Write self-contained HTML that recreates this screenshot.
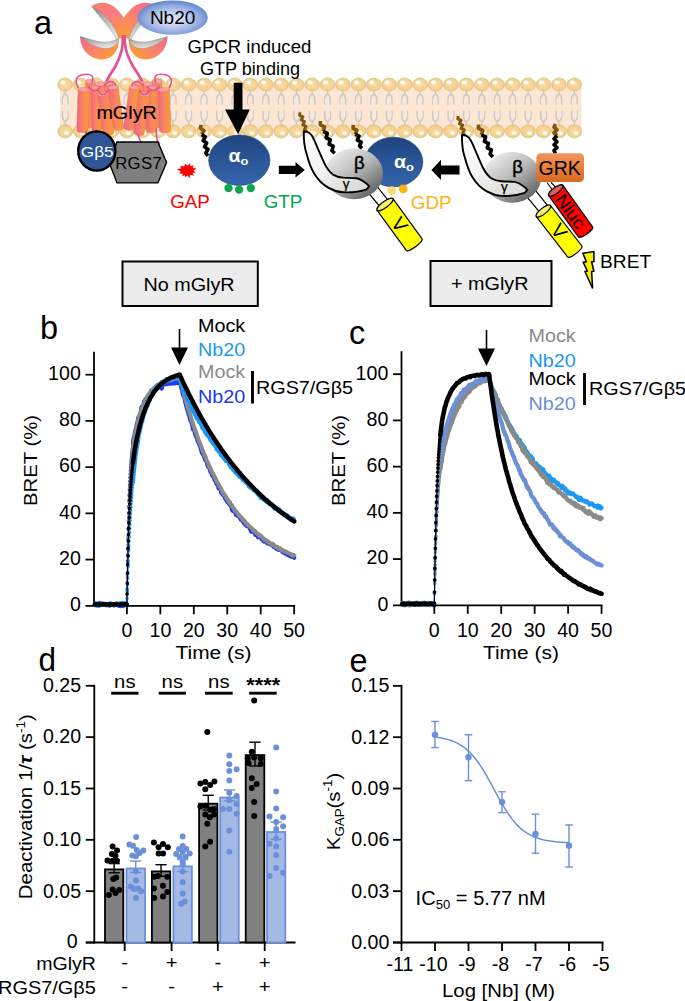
<!DOCTYPE html>
<html><head><meta charset="utf-8"><title>Figure</title>
<style>html,body{margin:0;padding:0;background:#fff}svg{display:block}text{font-family:'Liberation Sans', sans-serif}</style>
</head><body>
<svg width="685" height="1001" viewBox="0 0 685 1001">
<rect width="685" height="1001" fill="#fff"/>
<defs>
<linearGradient id="gHelix" x1="0" y1="0" x2="1" y2="0"><stop offset="0" stop-color="#f3628f"/><stop offset="0.55" stop-color="#f98a58"/><stop offset="1" stop-color="#fc9c35"/></linearGradient>
<linearGradient id="gHelixB" x1="0" y1="0" x2="1" y2="0"><stop offset="0" stop-color="#f77a86"/><stop offset="1" stop-color="#fb8f4c"/></linearGradient>
<linearGradient id="gUL" x1="0.2" y1="0" x2="0.8" y2="1"><stop offset="0" stop-color="#fb7f6c"/><stop offset="0.4" stop-color="#fa7a86"/><stop offset="1" stop-color="#fc9a3a"/></linearGradient>
<linearGradient id="gUR" x1="0.8" y1="0" x2="0.2" y2="1"><stop offset="0" stop-color="#f86c8e"/><stop offset="0.5" stop-color="#fb8270"/><stop offset="1" stop-color="#fc9a3a"/></linearGradient>
<linearGradient id="gLL" x1="0" y1="0" x2="1" y2="0.6"><stop offset="0" stop-color="#f5648f"/><stop offset="0.5" stop-color="#fa826c"/><stop offset="1" stop-color="#fd9c34"/></linearGradient>
<linearGradient id="gLR" x1="1" y1="0" x2="0" y2="0.6"><stop offset="0" stop-color="#f5688e"/><stop offset="0.5" stop-color="#fa826c"/><stop offset="1" stop-color="#fd9c34"/></linearGradient>
<linearGradient id="gGray" x1="0" y1="0" x2="0.3" y2="1"><stop offset="0" stop-color="#8a8a8a"/><stop offset="1" stop-color="#e4e4e4"/></linearGradient>
<radialGradient id="gNb" cx="0.5" cy="0.55" r="0.58"><stop offset="0" stop-color="#dde5f6"/><stop offset="0.35" stop-color="#c3d0ee"/><stop offset="0.7" stop-color="#8fa8df"/><stop offset="1" stop-color="#5178c9"/></radialGradient>
<radialGradient id="gHead" cx="0.5" cy="0.5" r="0.5"><stop offset="0" stop-color="#f9dda5"/><stop offset="0.8" stop-color="#f5d18c"/><stop offset="1" stop-color="#eac47c"/></radialGradient>
<linearGradient id="gAlpha" x1="0" y1="0" x2="0" y2="1"><stop offset="0" stop-color="#1f447f"/><stop offset="1" stop-color="#3566ad"/></linearGradient>
<linearGradient id="gBeta" x1="0.15" y1="0.1" x2="0.85" y2="0.9"><stop offset="0" stop-color="#ebebeb"/><stop offset="0.45" stop-color="#bcbcbc"/><stop offset="1" stop-color="#626262"/></linearGradient>
<linearGradient id="gGam" x1="0" y1="0" x2="0.6" y2="1"><stop offset="0" stop-color="#ffffff"/><stop offset="0.6" stop-color="#f2f2f0"/><stop offset="1" stop-color="#dcdcd8"/></linearGradient>
<linearGradient id="gGRK" x1="0" y1="0" x2="0" y2="1"><stop offset="0" stop-color="#f2955a"/><stop offset="1" stop-color="#d9691f"/></linearGradient>
</defs>
<text transform="translate(34.0 34.0) scale(1.0 1)" font-size="32.5" text-anchor="start" fill="#000" >a</text>
<rect x="60" y="83.5" width="521.5" height="48.80000000000001" fill="#fde6d3"/>
<g><g transform="translate(65.2 84.5)"><path d="M0 5.5V9.5M-2.8 20V14.5Q-2.8 10.8 0 9.5Q2.8 10.8 2.8 14.5V20" fill="none" stroke="#cdcbca" stroke-width="1.5"/><path d="M-1.9 19.5V14" stroke="#fff" stroke-width="0.7" fill="none" opacity="0.8"/><ellipse cx="0" cy="0" rx="7.4" ry="6.5" fill="url(#gHead)" stroke="#d9bd8c" stroke-width="0.6"/><ellipse cx="-2" cy="-2" rx="2.6" ry="1.9" fill="#fff" opacity="0.95"/></g><g transform="translate(80.6 84.5)"><path d="M0 5.5V9.5M-2.8 20V14.5Q-2.8 10.8 0 9.5Q2.8 10.8 2.8 14.5V20" fill="none" stroke="#cdcbca" stroke-width="1.5"/><path d="M-1.9 19.5V14" stroke="#fff" stroke-width="0.7" fill="none" opacity="0.8"/><ellipse cx="0" cy="0" rx="7.4" ry="6.5" fill="url(#gHead)" stroke="#d9bd8c" stroke-width="0.6"/><ellipse cx="-2" cy="-2" rx="2.6" ry="1.9" fill="#fff" opacity="0.95"/></g><g transform="translate(96.1 84.5)"><path d="M0 5.5V9.5M-2.8 20V14.5Q-2.8 10.8 0 9.5Q2.8 10.8 2.8 14.5V20" fill="none" stroke="#cdcbca" stroke-width="1.5"/><path d="M-1.9 19.5V14" stroke="#fff" stroke-width="0.7" fill="none" opacity="0.8"/><ellipse cx="0" cy="0" rx="7.4" ry="6.5" fill="url(#gHead)" stroke="#d9bd8c" stroke-width="0.6"/><ellipse cx="-2" cy="-2" rx="2.6" ry="1.9" fill="#fff" opacity="0.95"/></g><g transform="translate(111.5 84.5)"><path d="M0 5.5V9.5M-2.8 20V14.5Q-2.8 10.8 0 9.5Q2.8 10.8 2.8 14.5V20" fill="none" stroke="#cdcbca" stroke-width="1.5"/><path d="M-1.9 19.5V14" stroke="#fff" stroke-width="0.7" fill="none" opacity="0.8"/><ellipse cx="0" cy="0" rx="7.4" ry="6.5" fill="url(#gHead)" stroke="#d9bd8c" stroke-width="0.6"/><ellipse cx="-2" cy="-2" rx="2.6" ry="1.9" fill="#fff" opacity="0.95"/></g><g transform="translate(126.9 84.5)"><path d="M0 5.5V9.5M-2.8 20V14.5Q-2.8 10.8 0 9.5Q2.8 10.8 2.8 14.5V20" fill="none" stroke="#cdcbca" stroke-width="1.5"/><path d="M-1.9 19.5V14" stroke="#fff" stroke-width="0.7" fill="none" opacity="0.8"/><ellipse cx="0" cy="0" rx="7.4" ry="6.5" fill="url(#gHead)" stroke="#d9bd8c" stroke-width="0.6"/><ellipse cx="-2" cy="-2" rx="2.6" ry="1.9" fill="#fff" opacity="0.95"/></g><g transform="translate(142.4 84.5)"><path d="M0 5.5V9.5M-2.8 20V14.5Q-2.8 10.8 0 9.5Q2.8 10.8 2.8 14.5V20" fill="none" stroke="#cdcbca" stroke-width="1.5"/><path d="M-1.9 19.5V14" stroke="#fff" stroke-width="0.7" fill="none" opacity="0.8"/><ellipse cx="0" cy="0" rx="7.4" ry="6.5" fill="url(#gHead)" stroke="#d9bd8c" stroke-width="0.6"/><ellipse cx="-2" cy="-2" rx="2.6" ry="1.9" fill="#fff" opacity="0.95"/></g><g transform="translate(157.8 84.5)"><path d="M0 5.5V9.5M-2.8 20V14.5Q-2.8 10.8 0 9.5Q2.8 10.8 2.8 14.5V20" fill="none" stroke="#cdcbca" stroke-width="1.5"/><path d="M-1.9 19.5V14" stroke="#fff" stroke-width="0.7" fill="none" opacity="0.8"/><ellipse cx="0" cy="0" rx="7.4" ry="6.5" fill="url(#gHead)" stroke="#d9bd8c" stroke-width="0.6"/><ellipse cx="-2" cy="-2" rx="2.6" ry="1.9" fill="#fff" opacity="0.95"/></g><g transform="translate(173.2 84.5)"><path d="M0 5.5V9.5M-2.8 20V14.5Q-2.8 10.8 0 9.5Q2.8 10.8 2.8 14.5V20" fill="none" stroke="#cdcbca" stroke-width="1.5"/><path d="M-1.9 19.5V14" stroke="#fff" stroke-width="0.7" fill="none" opacity="0.8"/><ellipse cx="0" cy="0" rx="7.4" ry="6.5" fill="url(#gHead)" stroke="#d9bd8c" stroke-width="0.6"/><ellipse cx="-2" cy="-2" rx="2.6" ry="1.9" fill="#fff" opacity="0.95"/></g><g transform="translate(188.6 84.5)"><path d="M0 5.5V9.5M-2.8 20V14.5Q-2.8 10.8 0 9.5Q2.8 10.8 2.8 14.5V20" fill="none" stroke="#cdcbca" stroke-width="1.5"/><path d="M-1.9 19.5V14" stroke="#fff" stroke-width="0.7" fill="none" opacity="0.8"/><ellipse cx="0" cy="0" rx="7.4" ry="6.5" fill="url(#gHead)" stroke="#d9bd8c" stroke-width="0.6"/><ellipse cx="-2" cy="-2" rx="2.6" ry="1.9" fill="#fff" opacity="0.95"/></g><g transform="translate(204.1 84.5)"><path d="M0 5.5V9.5M-2.8 20V14.5Q-2.8 10.8 0 9.5Q2.8 10.8 2.8 14.5V20" fill="none" stroke="#cdcbca" stroke-width="1.5"/><path d="M-1.9 19.5V14" stroke="#fff" stroke-width="0.7" fill="none" opacity="0.8"/><ellipse cx="0" cy="0" rx="7.4" ry="6.5" fill="url(#gHead)" stroke="#d9bd8c" stroke-width="0.6"/><ellipse cx="-2" cy="-2" rx="2.6" ry="1.9" fill="#fff" opacity="0.95"/></g><g transform="translate(219.5 84.5)"><path d="M0 5.5V9.5M-2.8 20V14.5Q-2.8 10.8 0 9.5Q2.8 10.8 2.8 14.5V20" fill="none" stroke="#cdcbca" stroke-width="1.5"/><path d="M-1.9 19.5V14" stroke="#fff" stroke-width="0.7" fill="none" opacity="0.8"/><ellipse cx="0" cy="0" rx="7.4" ry="6.5" fill="url(#gHead)" stroke="#d9bd8c" stroke-width="0.6"/><ellipse cx="-2" cy="-2" rx="2.6" ry="1.9" fill="#fff" opacity="0.95"/></g><g transform="translate(234.9 84.5)"><path d="M0 5.5V9.5M-2.8 20V14.5Q-2.8 10.8 0 9.5Q2.8 10.8 2.8 14.5V20" fill="none" stroke="#cdcbca" stroke-width="1.5"/><path d="M-1.9 19.5V14" stroke="#fff" stroke-width="0.7" fill="none" opacity="0.8"/><ellipse cx="0" cy="0" rx="7.4" ry="6.5" fill="url(#gHead)" stroke="#d9bd8c" stroke-width="0.6"/><ellipse cx="-2" cy="-2" rx="2.6" ry="1.9" fill="#fff" opacity="0.95"/></g><g transform="translate(250.4 84.5)"><path d="M0 5.5V9.5M-2.8 20V14.5Q-2.8 10.8 0 9.5Q2.8 10.8 2.8 14.5V20" fill="none" stroke="#cdcbca" stroke-width="1.5"/><path d="M-1.9 19.5V14" stroke="#fff" stroke-width="0.7" fill="none" opacity="0.8"/><ellipse cx="0" cy="0" rx="7.4" ry="6.5" fill="url(#gHead)" stroke="#d9bd8c" stroke-width="0.6"/><ellipse cx="-2" cy="-2" rx="2.6" ry="1.9" fill="#fff" opacity="0.95"/></g><g transform="translate(265.8 84.5)"><path d="M0 5.5V9.5M-2.8 20V14.5Q-2.8 10.8 0 9.5Q2.8 10.8 2.8 14.5V20" fill="none" stroke="#cdcbca" stroke-width="1.5"/><path d="M-1.9 19.5V14" stroke="#fff" stroke-width="0.7" fill="none" opacity="0.8"/><ellipse cx="0" cy="0" rx="7.4" ry="6.5" fill="url(#gHead)" stroke="#d9bd8c" stroke-width="0.6"/><ellipse cx="-2" cy="-2" rx="2.6" ry="1.9" fill="#fff" opacity="0.95"/></g><g transform="translate(281.2 84.5)"><path d="M0 5.5V9.5M-2.8 20V14.5Q-2.8 10.8 0 9.5Q2.8 10.8 2.8 14.5V20" fill="none" stroke="#cdcbca" stroke-width="1.5"/><path d="M-1.9 19.5V14" stroke="#fff" stroke-width="0.7" fill="none" opacity="0.8"/><ellipse cx="0" cy="0" rx="7.4" ry="6.5" fill="url(#gHead)" stroke="#d9bd8c" stroke-width="0.6"/><ellipse cx="-2" cy="-2" rx="2.6" ry="1.9" fill="#fff" opacity="0.95"/></g><g transform="translate(296.6 84.5)"><path d="M0 5.5V9.5M-2.8 20V14.5Q-2.8 10.8 0 9.5Q2.8 10.8 2.8 14.5V20" fill="none" stroke="#cdcbca" stroke-width="1.5"/><path d="M-1.9 19.5V14" stroke="#fff" stroke-width="0.7" fill="none" opacity="0.8"/><ellipse cx="0" cy="0" rx="7.4" ry="6.5" fill="url(#gHead)" stroke="#d9bd8c" stroke-width="0.6"/><ellipse cx="-2" cy="-2" rx="2.6" ry="1.9" fill="#fff" opacity="0.95"/></g><g transform="translate(312.1 84.5)"><path d="M0 5.5V9.5M-2.8 20V14.5Q-2.8 10.8 0 9.5Q2.8 10.8 2.8 14.5V20" fill="none" stroke="#cdcbca" stroke-width="1.5"/><path d="M-1.9 19.5V14" stroke="#fff" stroke-width="0.7" fill="none" opacity="0.8"/><ellipse cx="0" cy="0" rx="7.4" ry="6.5" fill="url(#gHead)" stroke="#d9bd8c" stroke-width="0.6"/><ellipse cx="-2" cy="-2" rx="2.6" ry="1.9" fill="#fff" opacity="0.95"/></g><g transform="translate(327.5 84.5)"><path d="M0 5.5V9.5M-2.8 20V14.5Q-2.8 10.8 0 9.5Q2.8 10.8 2.8 14.5V20" fill="none" stroke="#cdcbca" stroke-width="1.5"/><path d="M-1.9 19.5V14" stroke="#fff" stroke-width="0.7" fill="none" opacity="0.8"/><ellipse cx="0" cy="0" rx="7.4" ry="6.5" fill="url(#gHead)" stroke="#d9bd8c" stroke-width="0.6"/><ellipse cx="-2" cy="-2" rx="2.6" ry="1.9" fill="#fff" opacity="0.95"/></g><g transform="translate(342.9 84.5)"><path d="M0 5.5V9.5M-2.8 20V14.5Q-2.8 10.8 0 9.5Q2.8 10.8 2.8 14.5V20" fill="none" stroke="#cdcbca" stroke-width="1.5"/><path d="M-1.9 19.5V14" stroke="#fff" stroke-width="0.7" fill="none" opacity="0.8"/><ellipse cx="0" cy="0" rx="7.4" ry="6.5" fill="url(#gHead)" stroke="#d9bd8c" stroke-width="0.6"/><ellipse cx="-2" cy="-2" rx="2.6" ry="1.9" fill="#fff" opacity="0.95"/></g><g transform="translate(358.4 84.5)"><path d="M0 5.5V9.5M-2.8 20V14.5Q-2.8 10.8 0 9.5Q2.8 10.8 2.8 14.5V20" fill="none" stroke="#cdcbca" stroke-width="1.5"/><path d="M-1.9 19.5V14" stroke="#fff" stroke-width="0.7" fill="none" opacity="0.8"/><ellipse cx="0" cy="0" rx="7.4" ry="6.5" fill="url(#gHead)" stroke="#d9bd8c" stroke-width="0.6"/><ellipse cx="-2" cy="-2" rx="2.6" ry="1.9" fill="#fff" opacity="0.95"/></g><g transform="translate(373.8 84.5)"><path d="M0 5.5V9.5M-2.8 20V14.5Q-2.8 10.8 0 9.5Q2.8 10.8 2.8 14.5V20" fill="none" stroke="#cdcbca" stroke-width="1.5"/><path d="M-1.9 19.5V14" stroke="#fff" stroke-width="0.7" fill="none" opacity="0.8"/><ellipse cx="0" cy="0" rx="7.4" ry="6.5" fill="url(#gHead)" stroke="#d9bd8c" stroke-width="0.6"/><ellipse cx="-2" cy="-2" rx="2.6" ry="1.9" fill="#fff" opacity="0.95"/></g><g transform="translate(389.2 84.5)"><path d="M0 5.5V9.5M-2.8 20V14.5Q-2.8 10.8 0 9.5Q2.8 10.8 2.8 14.5V20" fill="none" stroke="#cdcbca" stroke-width="1.5"/><path d="M-1.9 19.5V14" stroke="#fff" stroke-width="0.7" fill="none" opacity="0.8"/><ellipse cx="0" cy="0" rx="7.4" ry="6.5" fill="url(#gHead)" stroke="#d9bd8c" stroke-width="0.6"/><ellipse cx="-2" cy="-2" rx="2.6" ry="1.9" fill="#fff" opacity="0.95"/></g><g transform="translate(404.7 84.5)"><path d="M0 5.5V9.5M-2.8 20V14.5Q-2.8 10.8 0 9.5Q2.8 10.8 2.8 14.5V20" fill="none" stroke="#cdcbca" stroke-width="1.5"/><path d="M-1.9 19.5V14" stroke="#fff" stroke-width="0.7" fill="none" opacity="0.8"/><ellipse cx="0" cy="0" rx="7.4" ry="6.5" fill="url(#gHead)" stroke="#d9bd8c" stroke-width="0.6"/><ellipse cx="-2" cy="-2" rx="2.6" ry="1.9" fill="#fff" opacity="0.95"/></g><g transform="translate(420.1 84.5)"><path d="M0 5.5V9.5M-2.8 20V14.5Q-2.8 10.8 0 9.5Q2.8 10.8 2.8 14.5V20" fill="none" stroke="#cdcbca" stroke-width="1.5"/><path d="M-1.9 19.5V14" stroke="#fff" stroke-width="0.7" fill="none" opacity="0.8"/><ellipse cx="0" cy="0" rx="7.4" ry="6.5" fill="url(#gHead)" stroke="#d9bd8c" stroke-width="0.6"/><ellipse cx="-2" cy="-2" rx="2.6" ry="1.9" fill="#fff" opacity="0.95"/></g><g transform="translate(435.5 84.5)"><path d="M0 5.5V9.5M-2.8 20V14.5Q-2.8 10.8 0 9.5Q2.8 10.8 2.8 14.5V20" fill="none" stroke="#cdcbca" stroke-width="1.5"/><path d="M-1.9 19.5V14" stroke="#fff" stroke-width="0.7" fill="none" opacity="0.8"/><ellipse cx="0" cy="0" rx="7.4" ry="6.5" fill="url(#gHead)" stroke="#d9bd8c" stroke-width="0.6"/><ellipse cx="-2" cy="-2" rx="2.6" ry="1.9" fill="#fff" opacity="0.95"/></g><g transform="translate(450.9 84.5)"><path d="M0 5.5V9.5M-2.8 20V14.5Q-2.8 10.8 0 9.5Q2.8 10.8 2.8 14.5V20" fill="none" stroke="#cdcbca" stroke-width="1.5"/><path d="M-1.9 19.5V14" stroke="#fff" stroke-width="0.7" fill="none" opacity="0.8"/><ellipse cx="0" cy="0" rx="7.4" ry="6.5" fill="url(#gHead)" stroke="#d9bd8c" stroke-width="0.6"/><ellipse cx="-2" cy="-2" rx="2.6" ry="1.9" fill="#fff" opacity="0.95"/></g><g transform="translate(466.4 84.5)"><path d="M0 5.5V9.5M-2.8 20V14.5Q-2.8 10.8 0 9.5Q2.8 10.8 2.8 14.5V20" fill="none" stroke="#cdcbca" stroke-width="1.5"/><path d="M-1.9 19.5V14" stroke="#fff" stroke-width="0.7" fill="none" opacity="0.8"/><ellipse cx="0" cy="0" rx="7.4" ry="6.5" fill="url(#gHead)" stroke="#d9bd8c" stroke-width="0.6"/><ellipse cx="-2" cy="-2" rx="2.6" ry="1.9" fill="#fff" opacity="0.95"/></g><g transform="translate(481.8 84.5)"><path d="M0 5.5V9.5M-2.8 20V14.5Q-2.8 10.8 0 9.5Q2.8 10.8 2.8 14.5V20" fill="none" stroke="#cdcbca" stroke-width="1.5"/><path d="M-1.9 19.5V14" stroke="#fff" stroke-width="0.7" fill="none" opacity="0.8"/><ellipse cx="0" cy="0" rx="7.4" ry="6.5" fill="url(#gHead)" stroke="#d9bd8c" stroke-width="0.6"/><ellipse cx="-2" cy="-2" rx="2.6" ry="1.9" fill="#fff" opacity="0.95"/></g><g transform="translate(497.2 84.5)"><path d="M0 5.5V9.5M-2.8 20V14.5Q-2.8 10.8 0 9.5Q2.8 10.8 2.8 14.5V20" fill="none" stroke="#cdcbca" stroke-width="1.5"/><path d="M-1.9 19.5V14" stroke="#fff" stroke-width="0.7" fill="none" opacity="0.8"/><ellipse cx="0" cy="0" rx="7.4" ry="6.5" fill="url(#gHead)" stroke="#d9bd8c" stroke-width="0.6"/><ellipse cx="-2" cy="-2" rx="2.6" ry="1.9" fill="#fff" opacity="0.95"/></g><g transform="translate(512.7 84.5)"><path d="M0 5.5V9.5M-2.8 20V14.5Q-2.8 10.8 0 9.5Q2.8 10.8 2.8 14.5V20" fill="none" stroke="#cdcbca" stroke-width="1.5"/><path d="M-1.9 19.5V14" stroke="#fff" stroke-width="0.7" fill="none" opacity="0.8"/><ellipse cx="0" cy="0" rx="7.4" ry="6.5" fill="url(#gHead)" stroke="#d9bd8c" stroke-width="0.6"/><ellipse cx="-2" cy="-2" rx="2.6" ry="1.9" fill="#fff" opacity="0.95"/></g><g transform="translate(528.1 84.5)"><path d="M0 5.5V9.5M-2.8 20V14.5Q-2.8 10.8 0 9.5Q2.8 10.8 2.8 14.5V20" fill="none" stroke="#cdcbca" stroke-width="1.5"/><path d="M-1.9 19.5V14" stroke="#fff" stroke-width="0.7" fill="none" opacity="0.8"/><ellipse cx="0" cy="0" rx="7.4" ry="6.5" fill="url(#gHead)" stroke="#d9bd8c" stroke-width="0.6"/><ellipse cx="-2" cy="-2" rx="2.6" ry="1.9" fill="#fff" opacity="0.95"/></g><g transform="translate(543.5 84.5)"><path d="M0 5.5V9.5M-2.8 20V14.5Q-2.8 10.8 0 9.5Q2.8 10.8 2.8 14.5V20" fill="none" stroke="#cdcbca" stroke-width="1.5"/><path d="M-1.9 19.5V14" stroke="#fff" stroke-width="0.7" fill="none" opacity="0.8"/><ellipse cx="0" cy="0" rx="7.4" ry="6.5" fill="url(#gHead)" stroke="#d9bd8c" stroke-width="0.6"/><ellipse cx="-2" cy="-2" rx="2.6" ry="1.9" fill="#fff" opacity="0.95"/></g><g transform="translate(559.0 84.5)"><path d="M0 5.5V9.5M-2.8 20V14.5Q-2.8 10.8 0 9.5Q2.8 10.8 2.8 14.5V20" fill="none" stroke="#cdcbca" stroke-width="1.5"/><path d="M-1.9 19.5V14" stroke="#fff" stroke-width="0.7" fill="none" opacity="0.8"/><ellipse cx="0" cy="0" rx="7.4" ry="6.5" fill="url(#gHead)" stroke="#d9bd8c" stroke-width="0.6"/><ellipse cx="-2" cy="-2" rx="2.6" ry="1.9" fill="#fff" opacity="0.95"/></g><g transform="translate(574.4 84.5)"><path d="M0 5.5V9.5M-2.8 20V14.5Q-2.8 10.8 0 9.5Q2.8 10.8 2.8 14.5V20" fill="none" stroke="#cdcbca" stroke-width="1.5"/><path d="M-1.9 19.5V14" stroke="#fff" stroke-width="0.7" fill="none" opacity="0.8"/><ellipse cx="0" cy="0" rx="7.4" ry="6.5" fill="url(#gHead)" stroke="#d9bd8c" stroke-width="0.6"/><ellipse cx="-2" cy="-2" rx="2.6" ry="1.9" fill="#fff" opacity="0.95"/></g></g>
<g><g transform="translate(65.2 131.3)"><path d="M0 -5.5V-9.5M-2.8 -20.5V-14.5Q-2.8 -10.8 0 -9.5Q2.8 -10.8 2.8 -14.5V-20.5" fill="none" stroke="#cdcbca" stroke-width="1.5"/><path d="M1.9 -20V-14" stroke="#fff" stroke-width="0.7" fill="none" opacity="0.8"/><ellipse cx="0" cy="0" rx="7.4" ry="6.5" fill="url(#gHead)" stroke="#d9bd8c" stroke-width="0.6"/><ellipse cx="1.5" cy="1.8" rx="2.6" ry="1.9" fill="#fff" opacity="0.95"/></g><g transform="translate(80.6 131.3)"><path d="M0 -5.5V-9.5M-2.8 -20.5V-14.5Q-2.8 -10.8 0 -9.5Q2.8 -10.8 2.8 -14.5V-20.5" fill="none" stroke="#cdcbca" stroke-width="1.5"/><path d="M1.9 -20V-14" stroke="#fff" stroke-width="0.7" fill="none" opacity="0.8"/><ellipse cx="0" cy="0" rx="7.4" ry="6.5" fill="url(#gHead)" stroke="#d9bd8c" stroke-width="0.6"/><ellipse cx="1.5" cy="1.8" rx="2.6" ry="1.9" fill="#fff" opacity="0.95"/></g><g transform="translate(96.1 131.3)"><path d="M0 -5.5V-9.5M-2.8 -20.5V-14.5Q-2.8 -10.8 0 -9.5Q2.8 -10.8 2.8 -14.5V-20.5" fill="none" stroke="#cdcbca" stroke-width="1.5"/><path d="M1.9 -20V-14" stroke="#fff" stroke-width="0.7" fill="none" opacity="0.8"/><ellipse cx="0" cy="0" rx="7.4" ry="6.5" fill="url(#gHead)" stroke="#d9bd8c" stroke-width="0.6"/><ellipse cx="1.5" cy="1.8" rx="2.6" ry="1.9" fill="#fff" opacity="0.95"/></g><g transform="translate(111.5 131.3)"><path d="M0 -5.5V-9.5M-2.8 -20.5V-14.5Q-2.8 -10.8 0 -9.5Q2.8 -10.8 2.8 -14.5V-20.5" fill="none" stroke="#cdcbca" stroke-width="1.5"/><path d="M1.9 -20V-14" stroke="#fff" stroke-width="0.7" fill="none" opacity="0.8"/><ellipse cx="0" cy="0" rx="7.4" ry="6.5" fill="url(#gHead)" stroke="#d9bd8c" stroke-width="0.6"/><ellipse cx="1.5" cy="1.8" rx="2.6" ry="1.9" fill="#fff" opacity="0.95"/></g><g transform="translate(126.9 131.3)"><path d="M0 -5.5V-9.5M-2.8 -20.5V-14.5Q-2.8 -10.8 0 -9.5Q2.8 -10.8 2.8 -14.5V-20.5" fill="none" stroke="#cdcbca" stroke-width="1.5"/><path d="M1.9 -20V-14" stroke="#fff" stroke-width="0.7" fill="none" opacity="0.8"/><ellipse cx="0" cy="0" rx="7.4" ry="6.5" fill="url(#gHead)" stroke="#d9bd8c" stroke-width="0.6"/><ellipse cx="1.5" cy="1.8" rx="2.6" ry="1.9" fill="#fff" opacity="0.95"/></g><g transform="translate(142.4 131.3)"><path d="M0 -5.5V-9.5M-2.8 -20.5V-14.5Q-2.8 -10.8 0 -9.5Q2.8 -10.8 2.8 -14.5V-20.5" fill="none" stroke="#cdcbca" stroke-width="1.5"/><path d="M1.9 -20V-14" stroke="#fff" stroke-width="0.7" fill="none" opacity="0.8"/><ellipse cx="0" cy="0" rx="7.4" ry="6.5" fill="url(#gHead)" stroke="#d9bd8c" stroke-width="0.6"/><ellipse cx="1.5" cy="1.8" rx="2.6" ry="1.9" fill="#fff" opacity="0.95"/></g><g transform="translate(157.8 131.3)"><path d="M0 -5.5V-9.5M-2.8 -20.5V-14.5Q-2.8 -10.8 0 -9.5Q2.8 -10.8 2.8 -14.5V-20.5" fill="none" stroke="#cdcbca" stroke-width="1.5"/><path d="M1.9 -20V-14" stroke="#fff" stroke-width="0.7" fill="none" opacity="0.8"/><ellipse cx="0" cy="0" rx="7.4" ry="6.5" fill="url(#gHead)" stroke="#d9bd8c" stroke-width="0.6"/><ellipse cx="1.5" cy="1.8" rx="2.6" ry="1.9" fill="#fff" opacity="0.95"/></g><g transform="translate(173.2 131.3)"><path d="M0 -5.5V-9.5M-2.8 -20.5V-14.5Q-2.8 -10.8 0 -9.5Q2.8 -10.8 2.8 -14.5V-20.5" fill="none" stroke="#cdcbca" stroke-width="1.5"/><path d="M1.9 -20V-14" stroke="#fff" stroke-width="0.7" fill="none" opacity="0.8"/><ellipse cx="0" cy="0" rx="7.4" ry="6.5" fill="url(#gHead)" stroke="#d9bd8c" stroke-width="0.6"/><ellipse cx="1.5" cy="1.8" rx="2.6" ry="1.9" fill="#fff" opacity="0.95"/></g><g transform="translate(188.6 131.3)"><path d="M0 -5.5V-9.5M-2.8 -20.5V-14.5Q-2.8 -10.8 0 -9.5Q2.8 -10.8 2.8 -14.5V-20.5" fill="none" stroke="#cdcbca" stroke-width="1.5"/><path d="M1.9 -20V-14" stroke="#fff" stroke-width="0.7" fill="none" opacity="0.8"/><ellipse cx="0" cy="0" rx="7.4" ry="6.5" fill="url(#gHead)" stroke="#d9bd8c" stroke-width="0.6"/><ellipse cx="1.5" cy="1.8" rx="2.6" ry="1.9" fill="#fff" opacity="0.95"/></g><g transform="translate(204.1 131.3)"><path d="M0 -5.5V-9.5M-2.8 -20.5V-14.5Q-2.8 -10.8 0 -9.5Q2.8 -10.8 2.8 -14.5V-20.5" fill="none" stroke="#cdcbca" stroke-width="1.5"/><path d="M1.9 -20V-14" stroke="#fff" stroke-width="0.7" fill="none" opacity="0.8"/><ellipse cx="0" cy="0" rx="7.4" ry="6.5" fill="url(#gHead)" stroke="#d9bd8c" stroke-width="0.6"/><ellipse cx="1.5" cy="1.8" rx="2.6" ry="1.9" fill="#fff" opacity="0.95"/></g><g transform="translate(219.5 131.3)"><path d="M0 -5.5V-9.5M-2.8 -20.5V-14.5Q-2.8 -10.8 0 -9.5Q2.8 -10.8 2.8 -14.5V-20.5" fill="none" stroke="#cdcbca" stroke-width="1.5"/><path d="M1.9 -20V-14" stroke="#fff" stroke-width="0.7" fill="none" opacity="0.8"/><ellipse cx="0" cy="0" rx="7.4" ry="6.5" fill="url(#gHead)" stroke="#d9bd8c" stroke-width="0.6"/><ellipse cx="1.5" cy="1.8" rx="2.6" ry="1.9" fill="#fff" opacity="0.95"/></g><g transform="translate(234.9 131.3)"><path d="M0 -5.5V-9.5M-2.8 -20.5V-14.5Q-2.8 -10.8 0 -9.5Q2.8 -10.8 2.8 -14.5V-20.5" fill="none" stroke="#cdcbca" stroke-width="1.5"/><path d="M1.9 -20V-14" stroke="#fff" stroke-width="0.7" fill="none" opacity="0.8"/><ellipse cx="0" cy="0" rx="7.4" ry="6.5" fill="url(#gHead)" stroke="#d9bd8c" stroke-width="0.6"/><ellipse cx="1.5" cy="1.8" rx="2.6" ry="1.9" fill="#fff" opacity="0.95"/></g><g transform="translate(250.4 131.3)"><path d="M0 -5.5V-9.5M-2.8 -20.5V-14.5Q-2.8 -10.8 0 -9.5Q2.8 -10.8 2.8 -14.5V-20.5" fill="none" stroke="#cdcbca" stroke-width="1.5"/><path d="M1.9 -20V-14" stroke="#fff" stroke-width="0.7" fill="none" opacity="0.8"/><ellipse cx="0" cy="0" rx="7.4" ry="6.5" fill="url(#gHead)" stroke="#d9bd8c" stroke-width="0.6"/><ellipse cx="1.5" cy="1.8" rx="2.6" ry="1.9" fill="#fff" opacity="0.95"/></g><g transform="translate(265.8 131.3)"><path d="M0 -5.5V-9.5M-2.8 -20.5V-14.5Q-2.8 -10.8 0 -9.5Q2.8 -10.8 2.8 -14.5V-20.5" fill="none" stroke="#cdcbca" stroke-width="1.5"/><path d="M1.9 -20V-14" stroke="#fff" stroke-width="0.7" fill="none" opacity="0.8"/><ellipse cx="0" cy="0" rx="7.4" ry="6.5" fill="url(#gHead)" stroke="#d9bd8c" stroke-width="0.6"/><ellipse cx="1.5" cy="1.8" rx="2.6" ry="1.9" fill="#fff" opacity="0.95"/></g><g transform="translate(281.2 131.3)"><path d="M0 -5.5V-9.5M-2.8 -20.5V-14.5Q-2.8 -10.8 0 -9.5Q2.8 -10.8 2.8 -14.5V-20.5" fill="none" stroke="#cdcbca" stroke-width="1.5"/><path d="M1.9 -20V-14" stroke="#fff" stroke-width="0.7" fill="none" opacity="0.8"/><ellipse cx="0" cy="0" rx="7.4" ry="6.5" fill="url(#gHead)" stroke="#d9bd8c" stroke-width="0.6"/><ellipse cx="1.5" cy="1.8" rx="2.6" ry="1.9" fill="#fff" opacity="0.95"/></g><g transform="translate(296.6 131.3)"><path d="M0 -5.5V-9.5M-2.8 -20.5V-14.5Q-2.8 -10.8 0 -9.5Q2.8 -10.8 2.8 -14.5V-20.5" fill="none" stroke="#cdcbca" stroke-width="1.5"/><path d="M1.9 -20V-14" stroke="#fff" stroke-width="0.7" fill="none" opacity="0.8"/><ellipse cx="0" cy="0" rx="7.4" ry="6.5" fill="url(#gHead)" stroke="#d9bd8c" stroke-width="0.6"/><ellipse cx="1.5" cy="1.8" rx="2.6" ry="1.9" fill="#fff" opacity="0.95"/></g><g transform="translate(312.1 131.3)"><path d="M0 -5.5V-9.5M-2.8 -20.5V-14.5Q-2.8 -10.8 0 -9.5Q2.8 -10.8 2.8 -14.5V-20.5" fill="none" stroke="#cdcbca" stroke-width="1.5"/><path d="M1.9 -20V-14" stroke="#fff" stroke-width="0.7" fill="none" opacity="0.8"/><ellipse cx="0" cy="0" rx="7.4" ry="6.5" fill="url(#gHead)" stroke="#d9bd8c" stroke-width="0.6"/><ellipse cx="1.5" cy="1.8" rx="2.6" ry="1.9" fill="#fff" opacity="0.95"/></g><g transform="translate(327.5 131.3)"><path d="M0 -5.5V-9.5M-2.8 -20.5V-14.5Q-2.8 -10.8 0 -9.5Q2.8 -10.8 2.8 -14.5V-20.5" fill="none" stroke="#cdcbca" stroke-width="1.5"/><path d="M1.9 -20V-14" stroke="#fff" stroke-width="0.7" fill="none" opacity="0.8"/><ellipse cx="0" cy="0" rx="7.4" ry="6.5" fill="url(#gHead)" stroke="#d9bd8c" stroke-width="0.6"/><ellipse cx="1.5" cy="1.8" rx="2.6" ry="1.9" fill="#fff" opacity="0.95"/></g><g transform="translate(342.9 131.3)"><path d="M0 -5.5V-9.5M-2.8 -20.5V-14.5Q-2.8 -10.8 0 -9.5Q2.8 -10.8 2.8 -14.5V-20.5" fill="none" stroke="#cdcbca" stroke-width="1.5"/><path d="M1.9 -20V-14" stroke="#fff" stroke-width="0.7" fill="none" opacity="0.8"/><ellipse cx="0" cy="0" rx="7.4" ry="6.5" fill="url(#gHead)" stroke="#d9bd8c" stroke-width="0.6"/><ellipse cx="1.5" cy="1.8" rx="2.6" ry="1.9" fill="#fff" opacity="0.95"/></g><g transform="translate(358.4 131.3)"><path d="M0 -5.5V-9.5M-2.8 -20.5V-14.5Q-2.8 -10.8 0 -9.5Q2.8 -10.8 2.8 -14.5V-20.5" fill="none" stroke="#cdcbca" stroke-width="1.5"/><path d="M1.9 -20V-14" stroke="#fff" stroke-width="0.7" fill="none" opacity="0.8"/><ellipse cx="0" cy="0" rx="7.4" ry="6.5" fill="url(#gHead)" stroke="#d9bd8c" stroke-width="0.6"/><ellipse cx="1.5" cy="1.8" rx="2.6" ry="1.9" fill="#fff" opacity="0.95"/></g><g transform="translate(373.8 131.3)"><path d="M0 -5.5V-9.5M-2.8 -20.5V-14.5Q-2.8 -10.8 0 -9.5Q2.8 -10.8 2.8 -14.5V-20.5" fill="none" stroke="#cdcbca" stroke-width="1.5"/><path d="M1.9 -20V-14" stroke="#fff" stroke-width="0.7" fill="none" opacity="0.8"/><ellipse cx="0" cy="0" rx="7.4" ry="6.5" fill="url(#gHead)" stroke="#d9bd8c" stroke-width="0.6"/><ellipse cx="1.5" cy="1.8" rx="2.6" ry="1.9" fill="#fff" opacity="0.95"/></g><g transform="translate(389.2 131.3)"><path d="M0 -5.5V-9.5M-2.8 -20.5V-14.5Q-2.8 -10.8 0 -9.5Q2.8 -10.8 2.8 -14.5V-20.5" fill="none" stroke="#cdcbca" stroke-width="1.5"/><path d="M1.9 -20V-14" stroke="#fff" stroke-width="0.7" fill="none" opacity="0.8"/><ellipse cx="0" cy="0" rx="7.4" ry="6.5" fill="url(#gHead)" stroke="#d9bd8c" stroke-width="0.6"/><ellipse cx="1.5" cy="1.8" rx="2.6" ry="1.9" fill="#fff" opacity="0.95"/></g><g transform="translate(404.7 131.3)"><path d="M0 -5.5V-9.5M-2.8 -20.5V-14.5Q-2.8 -10.8 0 -9.5Q2.8 -10.8 2.8 -14.5V-20.5" fill="none" stroke="#cdcbca" stroke-width="1.5"/><path d="M1.9 -20V-14" stroke="#fff" stroke-width="0.7" fill="none" opacity="0.8"/><ellipse cx="0" cy="0" rx="7.4" ry="6.5" fill="url(#gHead)" stroke="#d9bd8c" stroke-width="0.6"/><ellipse cx="1.5" cy="1.8" rx="2.6" ry="1.9" fill="#fff" opacity="0.95"/></g><g transform="translate(420.1 131.3)"><path d="M0 -5.5V-9.5M-2.8 -20.5V-14.5Q-2.8 -10.8 0 -9.5Q2.8 -10.8 2.8 -14.5V-20.5" fill="none" stroke="#cdcbca" stroke-width="1.5"/><path d="M1.9 -20V-14" stroke="#fff" stroke-width="0.7" fill="none" opacity="0.8"/><ellipse cx="0" cy="0" rx="7.4" ry="6.5" fill="url(#gHead)" stroke="#d9bd8c" stroke-width="0.6"/><ellipse cx="1.5" cy="1.8" rx="2.6" ry="1.9" fill="#fff" opacity="0.95"/></g><g transform="translate(435.5 131.3)"><path d="M0 -5.5V-9.5M-2.8 -20.5V-14.5Q-2.8 -10.8 0 -9.5Q2.8 -10.8 2.8 -14.5V-20.5" fill="none" stroke="#cdcbca" stroke-width="1.5"/><path d="M1.9 -20V-14" stroke="#fff" stroke-width="0.7" fill="none" opacity="0.8"/><ellipse cx="0" cy="0" rx="7.4" ry="6.5" fill="url(#gHead)" stroke="#d9bd8c" stroke-width="0.6"/><ellipse cx="1.5" cy="1.8" rx="2.6" ry="1.9" fill="#fff" opacity="0.95"/></g><g transform="translate(450.9 131.3)"><path d="M0 -5.5V-9.5M-2.8 -20.5V-14.5Q-2.8 -10.8 0 -9.5Q2.8 -10.8 2.8 -14.5V-20.5" fill="none" stroke="#cdcbca" stroke-width="1.5"/><path d="M1.9 -20V-14" stroke="#fff" stroke-width="0.7" fill="none" opacity="0.8"/><ellipse cx="0" cy="0" rx="7.4" ry="6.5" fill="url(#gHead)" stroke="#d9bd8c" stroke-width="0.6"/><ellipse cx="1.5" cy="1.8" rx="2.6" ry="1.9" fill="#fff" opacity="0.95"/></g><g transform="translate(466.4 131.3)"><path d="M0 -5.5V-9.5M-2.8 -20.5V-14.5Q-2.8 -10.8 0 -9.5Q2.8 -10.8 2.8 -14.5V-20.5" fill="none" stroke="#cdcbca" stroke-width="1.5"/><path d="M1.9 -20V-14" stroke="#fff" stroke-width="0.7" fill="none" opacity="0.8"/><ellipse cx="0" cy="0" rx="7.4" ry="6.5" fill="url(#gHead)" stroke="#d9bd8c" stroke-width="0.6"/><ellipse cx="1.5" cy="1.8" rx="2.6" ry="1.9" fill="#fff" opacity="0.95"/></g><g transform="translate(481.8 131.3)"><path d="M0 -5.5V-9.5M-2.8 -20.5V-14.5Q-2.8 -10.8 0 -9.5Q2.8 -10.8 2.8 -14.5V-20.5" fill="none" stroke="#cdcbca" stroke-width="1.5"/><path d="M1.9 -20V-14" stroke="#fff" stroke-width="0.7" fill="none" opacity="0.8"/><ellipse cx="0" cy="0" rx="7.4" ry="6.5" fill="url(#gHead)" stroke="#d9bd8c" stroke-width="0.6"/><ellipse cx="1.5" cy="1.8" rx="2.6" ry="1.9" fill="#fff" opacity="0.95"/></g><g transform="translate(497.2 131.3)"><path d="M0 -5.5V-9.5M-2.8 -20.5V-14.5Q-2.8 -10.8 0 -9.5Q2.8 -10.8 2.8 -14.5V-20.5" fill="none" stroke="#cdcbca" stroke-width="1.5"/><path d="M1.9 -20V-14" stroke="#fff" stroke-width="0.7" fill="none" opacity="0.8"/><ellipse cx="0" cy="0" rx="7.4" ry="6.5" fill="url(#gHead)" stroke="#d9bd8c" stroke-width="0.6"/><ellipse cx="1.5" cy="1.8" rx="2.6" ry="1.9" fill="#fff" opacity="0.95"/></g><g transform="translate(512.7 131.3)"><path d="M0 -5.5V-9.5M-2.8 -20.5V-14.5Q-2.8 -10.8 0 -9.5Q2.8 -10.8 2.8 -14.5V-20.5" fill="none" stroke="#cdcbca" stroke-width="1.5"/><path d="M1.9 -20V-14" stroke="#fff" stroke-width="0.7" fill="none" opacity="0.8"/><ellipse cx="0" cy="0" rx="7.4" ry="6.5" fill="url(#gHead)" stroke="#d9bd8c" stroke-width="0.6"/><ellipse cx="1.5" cy="1.8" rx="2.6" ry="1.9" fill="#fff" opacity="0.95"/></g><g transform="translate(528.1 131.3)"><path d="M0 -5.5V-9.5M-2.8 -20.5V-14.5Q-2.8 -10.8 0 -9.5Q2.8 -10.8 2.8 -14.5V-20.5" fill="none" stroke="#cdcbca" stroke-width="1.5"/><path d="M1.9 -20V-14" stroke="#fff" stroke-width="0.7" fill="none" opacity="0.8"/><ellipse cx="0" cy="0" rx="7.4" ry="6.5" fill="url(#gHead)" stroke="#d9bd8c" stroke-width="0.6"/><ellipse cx="1.5" cy="1.8" rx="2.6" ry="1.9" fill="#fff" opacity="0.95"/></g><g transform="translate(543.5 131.3)"><path d="M0 -5.5V-9.5M-2.8 -20.5V-14.5Q-2.8 -10.8 0 -9.5Q2.8 -10.8 2.8 -14.5V-20.5" fill="none" stroke="#cdcbca" stroke-width="1.5"/><path d="M1.9 -20V-14" stroke="#fff" stroke-width="0.7" fill="none" opacity="0.8"/><ellipse cx="0" cy="0" rx="7.4" ry="6.5" fill="url(#gHead)" stroke="#d9bd8c" stroke-width="0.6"/><ellipse cx="1.5" cy="1.8" rx="2.6" ry="1.9" fill="#fff" opacity="0.95"/></g><g transform="translate(559.0 131.3)"><path d="M0 -5.5V-9.5M-2.8 -20.5V-14.5Q-2.8 -10.8 0 -9.5Q2.8 -10.8 2.8 -14.5V-20.5" fill="none" stroke="#cdcbca" stroke-width="1.5"/><path d="M1.9 -20V-14" stroke="#fff" stroke-width="0.7" fill="none" opacity="0.8"/><ellipse cx="0" cy="0" rx="7.4" ry="6.5" fill="url(#gHead)" stroke="#d9bd8c" stroke-width="0.6"/><ellipse cx="1.5" cy="1.8" rx="2.6" ry="1.9" fill="#fff" opacity="0.95"/></g><g transform="translate(574.4 131.3)"><path d="M0 -5.5V-9.5M-2.8 -20.5V-14.5Q-2.8 -10.8 0 -9.5Q2.8 -10.8 2.8 -14.5V-20.5" fill="none" stroke="#cdcbca" stroke-width="1.5"/><path d="M1.9 -20V-14" stroke="#fff" stroke-width="0.7" fill="none" opacity="0.8"/><ellipse cx="0" cy="0" rx="7.4" ry="6.5" fill="url(#gHead)" stroke="#d9bd8c" stroke-width="0.6"/><ellipse cx="1.5" cy="1.8" rx="2.6" ry="1.9" fill="#fff" opacity="0.95"/></g></g>
<path d="M91.7 6.4 C97.0 1.0 109.0 1.5 115.0 7.5 C119.5 11.5 122.0 15.0 124.2 18.5 L124.2 37.0 L118.2 39.0 C116.0 27.0 106.0 17.0 91.7 6.4 Z" fill="url(#gUL)"/>
<path d="M80.0 36.6 C80.5 49.0 89.0 59.4 102.0 59.4 C112.0 59.4 119.2 51.0 118.9 39.5 L117.0 40.0 C108.0 47.0 92.0 44.0 80.0 36.6 Z" fill="url(#gLL)"/>
<path d="M91.7 6.4 C102.0 11.0 115.0 24.0 118.6 38.5 L117.2 40.4 C112.0 30.0 102.0 20.0 91.7 6.4 Z" fill="url(#gGray)" stroke="#7a7a7a" stroke-width="0.3"/>
<path d="M80.0 36.6 C90.0 38.5 104.0 46.5 118.3 38.6 L118.9 40.6 C112.5 53.5 95.0 49.5 80.0 36.6 Z" fill="url(#gGray)" stroke="#7a7a7a" stroke-width="0.3"/>
<path d="M155.9 6.4 C150.6 1.0 138.6 1.5 132.6 7.5 C128.1 11.5 125.6 15.0 123.4 18.5 L123.4 37.0 L129.4 39.0 C131.6 27.0 141.6 17.0 155.9 6.4 Z" fill="url(#gUR)"/>
<path d="M167.6 36.6 C167.1 49.0 158.6 59.4 145.6 59.4 C135.6 59.4 128.4 51.0 128.7 39.5 L130.6 40.0 C139.6 47.0 155.6 44.0 167.6 36.6 Z" fill="url(#gLR)"/>
<path d="M155.9 6.4 C145.6 11.0 132.6 24.0 129.0 38.5 L130.4 40.4 C135.6 30.0 145.6 20.0 155.9 6.4 Z" fill="url(#gGray)" stroke="#7a7a7a" stroke-width="0.3"/>
<path d="M167.6 36.6 C157.6 38.5 143.6 46.5 129.3 38.6 L128.7 40.6 C135.1 53.5 152.6 49.5 167.6 36.6 Z" fill="url(#gGray)" stroke="#7a7a7a" stroke-width="0.3"/>
<path d="M122.89999999999999 35 L122.6 44 C122.2 52 119.8 58 115.0 67 C111.8 72.5 107.8 77 105.8 83" fill="none" stroke="#e6508c" stroke-width="2.7"/>
<path d="M124.7 35 L125.0 44 C125.6 52 128.2 58 133.4 67 C136.8 72.5 140.3 76.5 142.3 82" fill="none" stroke="#e6508c" stroke-width="2.7"/>
<path d="M85.8 81.4 L95.2 81.6 L94.2 126.1 A4.8 2.2 1.3 0 1 84.8 125.9 Z" fill="url(#gHelixB)" stroke="#d8703a" stroke-width="0.4"/>
<ellipse cx="90.5" cy="81.5" rx="4.8" ry="2.2" transform="rotate(1.3 90.5 81.5)" fill="#f8a5ae" stroke="#d8703a" stroke-width="0.4"/>
<path d="M95.5 84.1 L104.5 83.9 L105.5 126.9 A4.5 2.2 -1.3 0 1 96.5 127.1 Z" fill="url(#gHelixB)" stroke="#d8703a" stroke-width="0.4"/>
<ellipse cx="100.0" cy="84.0" rx="4.5" ry="2.2" transform="rotate(-1.3 100.0 84.0)" fill="#f8a5ae" stroke="#d8703a" stroke-width="0.4"/>
<path d="M104.0 83.4 L113.0 82.6 L116.5 125.6 A4.5 2.2 -4.7 0 1 107.5 126.4 Z" fill="url(#gHelixB)" stroke="#d8703a" stroke-width="0.4"/>
<ellipse cx="108.5" cy="83.0" rx="4.5" ry="2.2" transform="rotate(-4.7 108.5 83.0)" fill="#f8a5ae" stroke="#d8703a" stroke-width="0.4"/>
<path d="M108.3 88.2 L118.1 86.8 L123.9 127.3 A4.9 2.2 -8.1 0 1 114.1 128.7 Z" fill="url(#gHelix)" stroke="#d8703a" stroke-width="0.4"/>
<ellipse cx="113.2" cy="87.5" rx="4.9" ry="2.2" transform="rotate(-8.1 113.2 87.5)" fill="#f9a0a8" stroke="#d8703a" stroke-width="0.4"/>
<path d="M78.2 89.6 L89.6 90.0 L88.2 130.7 A5.7 2.2 2.0 0 1 76.8 130.3 Z" fill="url(#gHelix)" stroke="#d8703a" stroke-width="0.4"/>
<ellipse cx="83.9" cy="89.8" rx="5.7" ry="2.2" transform="rotate(2.0 83.9 89.8)" fill="#f9a0a8" stroke="#d8703a" stroke-width="0.4"/>
<path d="M91.2 88.1 L100.2 87.9 L101.0 130.4 A4.5 2.2 -1.1 0 1 92.0 130.6 Z" fill="url(#gHelix)" stroke="#d8703a" stroke-width="0.4"/>
<ellipse cx="95.7" cy="88.0" rx="4.5" ry="2.2" transform="rotate(-1.1 95.7 88.0)" fill="#f9a0a8" stroke="#d8703a" stroke-width="0.4"/>
<path d="M97.7 95.0 L108.1 93.4 L114.0 132.2 A5.2 2.2 -8.6 0 1 103.6 133.8 Z" fill="url(#gHelix)" stroke="#d8703a" stroke-width="0.4"/>
<ellipse cx="102.9" cy="94.2" rx="5.2" ry="2.2" transform="rotate(-8.6 102.9 94.2)" fill="#f9a0a8" stroke="#d8703a" stroke-width="0.4"/>
<path d="M152.4 81.6 L161.8 81.4 L162.8 125.9 A4.8 2.2 -1.3 0 1 153.4 126.1 Z" fill="url(#gHelixB)" stroke="#d8703a" stroke-width="0.4"/>
<ellipse cx="157.1" cy="81.5" rx="4.8" ry="2.2" transform="rotate(-1.3 157.1 81.5)" fill="#f8a5ae" stroke="#d8703a" stroke-width="0.4"/>
<path d="M143.1 83.9 L152.1 84.1 L151.1 127.1 A4.5 2.2 1.3 0 1 142.1 126.9 Z" fill="url(#gHelixB)" stroke="#d8703a" stroke-width="0.4"/>
<ellipse cx="147.6" cy="84.0" rx="4.5" ry="2.2" transform="rotate(1.3 147.6 84.0)" fill="#f8a5ae" stroke="#d8703a" stroke-width="0.4"/>
<path d="M134.6 82.6 L143.6 83.4 L140.1 126.4 A4.5 2.2 4.7 0 1 131.1 125.6 Z" fill="url(#gHelixB)" stroke="#d8703a" stroke-width="0.4"/>
<ellipse cx="139.1" cy="83.0" rx="4.5" ry="2.2" transform="rotate(4.7 139.1 83.0)" fill="#f8a5ae" stroke="#d8703a" stroke-width="0.4"/>
<path d="M129.5 86.8 L139.3 88.2 L133.5 128.7 A4.9 2.2 8.1 0 1 123.7 127.3 Z" fill="url(#gHelix)" stroke="#d8703a" stroke-width="0.4"/>
<ellipse cx="134.4" cy="87.5" rx="4.9" ry="2.2" transform="rotate(8.1 134.4 87.5)" fill="#f9a0a8" stroke="#d8703a" stroke-width="0.4"/>
<path d="M158.0 90.0 L169.4 89.6 L170.8 130.3 A5.7 2.2 -2.0 0 1 159.4 130.7 Z" fill="url(#gHelix)" stroke="#d8703a" stroke-width="0.4"/>
<ellipse cx="163.7" cy="89.8" rx="5.7" ry="2.2" transform="rotate(-2.0 163.7 89.8)" fill="#f9a0a8" stroke="#d8703a" stroke-width="0.4"/>
<path d="M147.4 87.9 L156.4 88.1 L155.6 130.6 A4.5 2.2 1.1 0 1 146.6 130.4 Z" fill="url(#gHelix)" stroke="#d8703a" stroke-width="0.4"/>
<ellipse cx="151.9" cy="88.0" rx="4.5" ry="2.2" transform="rotate(1.1 151.9 88.0)" fill="#f9a0a8" stroke="#d8703a" stroke-width="0.4"/>
<path d="M139.5 93.4 L149.9 95.0 L144.0 133.8 A5.2 2.2 8.6 0 1 133.6 132.2 Z" fill="url(#gHelix)" stroke="#d8703a" stroke-width="0.4"/>
<ellipse cx="144.7" cy="94.2" rx="5.2" ry="2.2" transform="rotate(8.6 144.7 94.2)" fill="#f9a0a8" stroke="#d8703a" stroke-width="0.4"/>
<path d="M78.5 88.0 C74.0 80.0 76.0 75.5 84.0 74.5 C92.0 73.5 94.0 76.0 92.0 83.0 M88.0 86.0 C92.0 92.0 98.0 92.0 100.0 86.0 M98.0 90.0 C100.0 96.0 106.0 96.0 108.0 90.0 M104.0 86.0 C108.0 80.0 114.0 80.0 116.0 86.0" fill="none" stroke="#e6508c" stroke-width="1.6"/>
<path d="M169.1 88.0 C173.6 80.0 171.6 75.5 163.6 74.5 C155.6 73.5 153.6 76.0 155.6 83.0 M159.6 86.0 C155.6 92.0 149.6 92.0 147.6 86.0 M149.6 90.0 C147.6 96.0 141.6 96.0 139.6 90.0 M143.6 86.0 C139.6 80.0 133.6 80.0 131.6 86.0" fill="none" stroke="#e6508c" stroke-width="1.6"/>
<path d="M138 134 C139 140 141 142 143 145 M156 128 C157 138 156 141 160 144 M86 131 C86 136 88 137 90 137" fill="none" stroke="#e6508c" stroke-width="1.6"/>
<text transform="translate(126.6 118.7) scale(1.087 1)" font-size="18.2" text-anchor="middle" fill="#000" stroke="#000" stroke-width="0.12">mGlyR</text>
<ellipse cx="172.6" cy="17.6" rx="35.2" ry="17.2" fill="url(#gNb)"/>
<text transform="translate(172.6 24.2) scale(1.0 1)" font-size="19" text-anchor="middle" fill="#000" >Nb20</text>
<text transform="translate(249.4 53.0) scale(1.02 1)" font-size="18.2" text-anchor="middle" fill="#000" >GPCR induced</text>
<text transform="translate(250.0 75.0) scale(0.995 1)" font-size="18.2" text-anchor="middle" fill="#000" >GTP binding</text>
<path d="M233.7 82.8 H242.5 V109.4 H249.8 L238.1 134.2 L225 109.4 H233.7 Z" fill="#000"/>
<path d="M109.1 162.4 L117 142 H157.9 L166.6 162.4 L157.9 182.9 H117 Z" fill="#7f7f7f" stroke="#000" stroke-width="1.4"/>
<text transform="translate(138.6 168.6) scale(1.06 1)" font-size="15.8" text-anchor="middle" fill="#000" letter-spacing="0.3">RGS7</text>
<ellipse cx="96.8" cy="151" rx="18.6" ry="19.6" fill="#2f5597" stroke="#000" stroke-width="2.4"/>
<text transform="translate(97.2 156.5) scale(1.16 1)" font-size="14.8" text-anchor="middle" fill="#fff" >Gβ5</text>
<path d="M176.7 169.3 L181.2 168.5 L180.2 165.8 L184.0 166.6 L185.2 163.7 L187.4 165.8 L190.1 163.3 L190.4 166.3 L193.9 165.2 L192.7 168.0 L196.9 168.4 L193.3 170.5 L195.7 172.5 L192.4 173.0 L194.2 175.7 L190.3 174.8 L189.6 177.9 L187.3 175.4 L185.5 177.4 L184.8 175.0 L182.3 176.6 L182.7 173.7 L179.1 173.6 L180.8 171.2 Z" fill="#ff0000"/>
<text transform="translate(190.0 207.5) scale(1.0 1)" font-size="18.8" text-anchor="middle" fill="#ff0000" >GAP</text>
<text transform="translate(283.0 207.5) scale(1.0 1)" font-size="18.8" text-anchor="middle" fill="#00a651" >GTP</text>
<text transform="translate(431.2 209.0) scale(1.0 1)" font-size="18.8" text-anchor="middle" fill="#fbb316" >GDP</text>
<path d="M201.2 124.8 L200.4 128.2 L204.0 130.7 L201.7 134.4" fill="none" stroke="#80560e" stroke-width="3.6" stroke-linejoin="round"/>
<path d="M201.7 134.4 L205.3 136.9 L203.1 140.6 L206.7 143.1 L204.4 146.8 L208.0 149.3 L205.8 153.0 L207.9 155.8" fill="none" stroke="#000" stroke-width="3.6" stroke-linejoin="round"/>
<ellipse cx="239.3" cy="160.2" rx="30.6" ry="25.2" fill="url(#gAlpha)" stroke="#1b3a6e" stroke-width="0.6"/>
<text transform="translate(228.5 162.0) scale(1.12 1)" font-size="17.5" font-weight="bold" fill="#fff">α<tspan font-size="11.5" dy="3.2">o</tspan></text>
<circle cx="228.5" cy="188.1" r="4.2" fill="#0da64b"/>
<circle cx="239.1" cy="189.6" r="4.2" fill="#0da64b"/>
<circle cx="250.8" cy="188.1" r="4.2" fill="#0da64b"/>
<path d="M278.8 165.8 H295.5 V162 L304.8 169.9 L295.5 177.6 V174 H278.8 Z" fill="#000"/>
<path d="M459.5 165.4 H441 V159.8 L431.4 169.9 L441 179.9 V174.4 H459.5 Z" fill="#000"/>
<path d="M300.0 112.4 L299.6 115.2 L302.9 116.8 L301.2 120.0 L304.5 121.5 L302.8 124.8 L306.1 126.3 L304.5 129.5 L306.5 131.5" fill="none" stroke="#80560e" stroke-width="3.0" stroke-linejoin="round"/>
<path d="M320.3 121.0 L320.4 124.8 L324.6 126.8 L323.2 131.3" fill="none" stroke="#80560e" stroke-width="3.6" stroke-linejoin="round"/>
<path d="M323.2 131.3 L327.4 133.3 L326.1 137.8 L330.3 139.8 L329.0 144.2 L333.2 146.2 L331.9 150.7 L334.7 153.3" fill="none" stroke="#000" stroke-width="3.6" stroke-linejoin="round"/>
<path d="M353.3 124.8 L353.0 128.3 L356.9 130.2 L355.2 134.2" fill="none" stroke="#80560e" stroke-width="3.6" stroke-linejoin="round"/>
<path d="M355.2 134.2 L359.1 136.1 L357.3 140.1 L361.2 142.0 L359.5 146.0 L362.0 148.4" fill="none" stroke="#000" stroke-width="3.6" stroke-linejoin="round"/>
<ellipse cx="393.6" cy="162" rx="29.2" ry="24.8" fill="url(#gAlpha)" stroke="#1b3a6e" stroke-width="0.6"/>
<text transform="translate(394.0 168.0) scale(1.12 1)" font-size="17.5" font-weight="bold" fill="#fff">α<tspan font-size="11.5" dy="3.2">o</tspan></text>
<circle cx="391.7" cy="190.6" r="4.4" fill="#fdd878"/><circle cx="403.2" cy="188.8" r="4.4" fill="#fbb30f"/>
<path d="M366.5 190.5 L381.0 208.0 L389.0 201.5 L375.5 184.5 Z" fill="#fff" stroke="#000" stroke-width="1.2"/>
<ellipse cx="353.9" cy="173.8" rx="29.1" ry="25.4" fill="url(#gBeta)"/>
<path d="M303.8 131.5 C303.6 140.0 304.6 148.0 306.7 154.2 C308.5 161.0 310.5 167.5 314.0 173.2 C317.5 179.0 322.5 184.5 328.6 187.8 C333.0 190.3 338.0 192.0 343.2 192.3 C351.0 192.7 360.0 191.6 366.5 189.3 L369.2 186.3 C367.8 184.5 366.6 183.5 365.1 182.6 C362.0 180.2 359.5 178.6 356.3 178.3 C352.0 177.9 347.5 177.9 343.2 177.6 C339.5 177.3 336.0 176.5 333.0 174.6 C329.5 172.0 327.0 168.5 324.9 164.4 C322.5 159.5 320.5 154.5 318.4 149.8 C316.5 145.5 315.0 141.0 312.5 136.7 C311.0 133.5 307.0 131.0 303.8 131.5 Z" fill="url(#gGam)" stroke="#000" stroke-width="1.9" stroke-linejoin="round"/>
<text transform="translate(346.2 187.6) scale(1.0 1)" font-size="13.5" stroke="#000" stroke-width="0.25" text-anchor="middle" font-family="'Liberation Serif', serif">γ</text>
<text transform="translate(359.4 169.4) scale(1.0 1)" font-size="18.5" stroke="#000" stroke-width="0.45" text-anchor="middle" font-family="'Liberation Serif', serif">β</text>
<path d="M377.1 210.3 L392.9 198.7 L422.1 238.8 A9.8 2.5 -36.1 0 1 406.3 250.4 Z" fill="#ffff00" stroke="#000" stroke-width="1.2"/>
<ellipse cx="385.0" cy="204.5" rx="9.8" ry="3.0" transform="rotate(-36.1 385.0 204.5)" fill="#f6f26a" stroke="#000" stroke-width="1.2"/>
<text transform="translate(399.6 224.6) rotate(53.9) scale(1.0 1)" font-size="19.5" text-anchor="middle" fill="#000" dy="0.35em">V</text>
<path d="M458.2 116.0 L457.8 118.8 L461.1 120.4 L459.4 123.6 L462.7 125.1 L461.0 128.4 L464.3 129.9 L462.7 133.1 L464.7 135.1" fill="none" stroke="#80560e" stroke-width="3.0" stroke-linejoin="round"/>
<path d="M478.5 124.6 L478.6 128.4 L482.8 130.4 L481.4 134.9" fill="none" stroke="#80560e" stroke-width="3.6" stroke-linejoin="round"/>
<path d="M481.4 134.9 L485.6 136.9 L484.3 141.4 L488.5 143.4 L487.2 147.8 L491.4 149.8 L490.1 154.3 L492.9 156.9" fill="none" stroke="#000" stroke-width="3.6" stroke-linejoin="round"/>
<path d="M524.7 194.1 L539.2 211.6 L547.2 205.1 L533.7 188.1 Z" fill="#fff" stroke="#000" stroke-width="1.2"/>
<ellipse cx="512.1" cy="177.4" rx="29.1" ry="25.4" fill="url(#gBeta)"/>
<path d="M462.0 135.1 C461.8 143.6 462.8 151.6 464.9 157.8 C466.7 164.6 468.7 171.1 472.2 176.8 C475.7 182.6 480.7 188.1 486.8 191.4 C491.2 193.9 496.2 195.6 501.4 195.9 C509.2 196.3 518.2 195.2 524.7 192.9 L527.4 189.9 C526.0 188.1 524.8 187.1 523.3 186.2 C520.2 183.8 517.7 182.2 514.5 181.9 C510.2 181.5 505.7 181.5 501.4 181.2 C497.7 180.9 494.2 180.1 491.2 178.2 C487.7 175.6 485.2 172.1 483.1 168.0 C480.7 163.1 478.7 158.1 476.6 153.4 C474.7 149.1 473.2 144.6 470.7 140.3 C469.2 137.1 465.2 134.6 462.0 135.1 Z" fill="url(#gGam)" stroke="#000" stroke-width="1.9" stroke-linejoin="round"/>
<text transform="translate(504.4 191.2) scale(1.0 1)" font-size="13.5" stroke="#000" stroke-width="0.25" text-anchor="middle" font-family="'Liberation Serif', serif">γ</text>
<text transform="translate(517.6 173.0) scale(1.0 1)" font-size="18.5" stroke="#000" stroke-width="0.45" text-anchor="middle" font-family="'Liberation Serif', serif">β</text>
<path d="M555.5 124.0 L554.0 127.0 L557.0 129.9 L554.0 132.8 L557.0 135.8" fill="none" stroke="#80560e" stroke-width="3.6" stroke-linejoin="round"/>
<path d="M557.0 135.8 L554.0 138.8 L557.0 141.7 L554.0 144.7 L557.0 147.6 L554.0 150.6 L555.5 153.5" fill="none" stroke="#000" stroke-width="3.6" stroke-linejoin="round"/>
<rect x="536.4" y="153.3" width="47.6" height="28.8" rx="4.5" fill="url(#gGRK)"/>
<text transform="translate(559.6 175.0) scale(1.0 1)" font-size="19.5" text-anchor="middle" fill="#000" >GRK</text>
<path d="M547 182.5 L552.8 190.5 M551 182.5 L556.8 188.3" stroke="#000" stroke-width="1.1" fill="none"/>
<path d="M536.3 216.5 L550.5 205.5 L581.9 246.0 A9.0 2.5 -37.8 0 1 567.7 257.0 Z" fill="#ffff00" stroke="#000" stroke-width="1.2"/>
<ellipse cx="543.4" cy="211.0" rx="9.0" ry="3.0" transform="rotate(-37.8 543.4 211.0)" fill="#f6f26a" stroke="#000" stroke-width="1.2"/>
<text transform="translate(559.1 231.2) rotate(52.2) scale(1.0 1)" font-size="19.5" text-anchor="middle" fill="#000" dy="0.35em">V</text>
<path d="M548.7 195.6 L562.9 185.4 L592.6 226.8 A8.7 2.5 -35.7 0 1 578.4 237.0 Z" fill="#ff0000" stroke="#000" stroke-width="1.2"/>
<ellipse cx="555.8" cy="190.5" rx="8.7" ry="3.0" transform="rotate(-35.7 555.8 190.5)" fill="#ea5a5a" stroke="#000" stroke-width="1.2"/>
<text transform="translate(570.6 211.2) rotate(54.3) scale(1.08 1)" font-size="17.5" text-anchor="middle" fill="#000" dy="0.35em">Nluc</text>
<path d="M582.9 253.2 L593.9 251.6 L593.9 261.6 L591.6 261.8 L593.9 271.2 L591.6 271.5 L592.6 288.5 L585 271.5 L587.3 270.9 L583.2 262.4 L586.3 261.8 Z" fill="#f7f000" stroke="#000" stroke-width="1.5" stroke-linejoin="miter"/>
<text transform="translate(600.0 268.4) scale(1.05 1)" font-size="18.3" text-anchor="start" fill="#000" >BRET</text>
<rect x="122.5" y="261.5" width="135.3" height="44.5" fill="#ececec" stroke="#000" stroke-width="2"/>
<text transform="translate(189.0 290.6) scale(1.07 1)" font-size="18.5" text-anchor="middle" fill="#000" >No mGlyR</text>
<rect x="430.5" y="261" width="121.0" height="45" fill="#ececec" stroke="#000" stroke-width="2"/>
<text transform="translate(489.8 290.3) scale(1.07 1)" font-size="18.5" text-anchor="middle" fill="#000" >+ mGlyR</text>
<text transform="translate(40.0 338.5) scale(1.0 1)" font-size="32.5" text-anchor="start" fill="#000" >b</text>
<text transform="translate(349.0 343.5) scale(1.0 1)" font-size="32.5" text-anchor="start" fill="#000" >c</text>
<text transform="translate(38.5 671.0) scale(0.97 1)" font-size="32.5" text-anchor="start" fill="#000" >d</text>
<text transform="translate(349.5 672.0) scale(1.0 1)" font-size="32.5" text-anchor="start" fill="#000" >e</text>
<line x1="94.00" y1="351.70" x2="94.00" y2="606.75" stroke="#000" stroke-width="1.8" />
<line x1="85.50" y1="605.80" x2="295.10" y2="605.80" stroke="#000" stroke-width="1.8" />
<line x1="85.50" y1="559.58" x2="94.00" y2="559.58" stroke="#000" stroke-width="1.8" />
<line x1="85.50" y1="513.36" x2="94.00" y2="513.36" stroke="#000" stroke-width="1.8" />
<line x1="85.50" y1="467.14" x2="94.00" y2="467.14" stroke="#000" stroke-width="1.8" />
<line x1="85.50" y1="420.92" x2="94.00" y2="420.92" stroke="#000" stroke-width="1.8" />
<line x1="85.50" y1="374.70" x2="94.00" y2="374.70" stroke="#000" stroke-width="1.8" />
<text transform="translate(80.8 611.1) scale(1.0 1)" font-size="19.6" text-anchor="end" fill="#000" >0</text>
<text transform="translate(80.8 564.9) scale(1.0 1)" font-size="19.6" text-anchor="end" fill="#000" >20</text>
<text transform="translate(80.8 518.7) scale(1.0 1)" font-size="19.6" text-anchor="end" fill="#000" >40</text>
<text transform="translate(80.8 472.4) scale(1.0 1)" font-size="19.6" text-anchor="end" fill="#000" >60</text>
<text transform="translate(80.8 426.2) scale(1.0 1)" font-size="19.6" text-anchor="end" fill="#000" >80</text>
<text transform="translate(80.8 380.0) scale(1.0 1)" font-size="19.6" text-anchor="end" fill="#000" >100</text>
<line x1="126.90" y1="605.80" x2="126.90" y2="614.30" stroke="#000" stroke-width="1.8" />
<text transform="translate(126.9 637.1) scale(1.0 1)" font-size="19.6" text-anchor="middle" fill="#000" >0</text>
<line x1="160.35" y1="605.80" x2="160.35" y2="614.30" stroke="#000" stroke-width="1.8" />
<text transform="translate(160.4 637.1) scale(1.0 1)" font-size="19.6" text-anchor="middle" fill="#000" >10</text>
<line x1="193.80" y1="605.80" x2="193.80" y2="614.30" stroke="#000" stroke-width="1.8" />
<text transform="translate(193.8 637.1) scale(1.0 1)" font-size="19.6" text-anchor="middle" fill="#000" >20</text>
<line x1="227.25" y1="605.80" x2="227.25" y2="614.30" stroke="#000" stroke-width="1.8" />
<text transform="translate(227.2 637.1) scale(1.0 1)" font-size="19.6" text-anchor="middle" fill="#000" >30</text>
<line x1="260.70" y1="605.80" x2="260.70" y2="614.30" stroke="#000" stroke-width="1.8" />
<text transform="translate(260.7 637.1) scale(1.0 1)" font-size="19.6" text-anchor="middle" fill="#000" >40</text>
<line x1="294.15" y1="605.80" x2="294.15" y2="614.30" stroke="#000" stroke-width="1.8" />
<text transform="translate(294.1 637.1) scale(1.0 1)" font-size="19.6" text-anchor="middle" fill="#000" >50</text>
<text transform="translate(213.5 659.0) scale(1.09 1)" font-size="19.2" text-anchor="middle" fill="#000" >Time (s)</text>
<text transform="translate(37.0 460.5) rotate(-90) scale(1.07 1)" font-size="19" text-anchor="middle" fill="#000" >BRET (%)</text>
<path d="M94.8 604.3 L95.6 603.5 L96.5 605.1 L97.3 603.7 L98.1 604.6 L99.0 604.6 L99.8 603.0 L100.6 604.3 L101.5 604.4 L102.3 603.9 L103.2 603.6 L104.0 604.4 L104.8 604.0 L105.7 605.1 L106.5 604.7 L107.3 604.7 L108.2 605.4 L109.0 605.5 L109.8 605.6 L110.7 604.6 L111.5 604.5 L112.3 604.7 L113.2 604.4 L114.0 605.4 L114.9 604.5 L115.7 604.2 L116.5 603.9 L117.4 605.0 L118.2 604.7 L119.0 605.9 L119.9 604.8 L120.7 606.0 L121.5 605.5 L122.4 603.6 L123.2 606.0 L124.1 603.8 L124.9 604.2 L125.7 604.6 L126.6 604.1 L126.7 604.4" fill="none" stroke="#1838f2" stroke-width="4.2" stroke-linejoin="round" stroke-linecap="round"/>
<path d="M126.7 604.4 L126.9 605.8 L127.1 589.0 L127.3 574.1 L127.5 560.9 L127.7 549.1 L127.9 538.6 L128.1 529.2 L128.3 520.8 L128.5 513.3 L128.7 506.5 L128.9 500.4 L129.1 494.9 L129.3 489.9 L129.5 485.3 L129.7 481.2 L129.9 477.4 L130.1 474.0 L130.3 470.8 L130.5 467.8 L130.7 465.1 L130.9 462.6 L131.1 460.2 L131.3 458.0 L131.5 455.9 L131.7 454.0 L131.9 452.1 L132.1 450.4 L132.3 448.8 L132.5 447.2 L132.7 445.7 L132.9 444.2" fill="none" stroke="#1838f2" stroke-width="1.1"/>
<path d="M126.9 605.8h0M127.1 589.0h0M127.3 574.1h0M127.5 560.9h0M127.7 549.1h0M127.9 538.6h0M128.1 529.2h0M128.3 520.8h0M128.5 513.3h0M128.7 506.5h0M128.9 500.4h0M129.1 494.9h0M129.3 489.9h0M129.5 485.3h0M129.7 481.2h0M129.9 477.4h0M130.1 474.0h0M130.3 470.8h0M130.5 467.8h0M130.7 465.1h0M130.9 462.6h0M131.1 460.2h0M131.3 458.0h0M131.5 455.9h0M131.7 454.0h0M131.9 452.1h0M132.1 450.4h0M132.3 448.8h0M132.5 447.2h0M132.7 445.7h0M132.9 444.2h0" fill="none" stroke="#1838f2" stroke-width="3.44" stroke-linecap="round"/>
<path d="M132.9 443.8 L133.6 438.9 L134.3 436.2 L134.9 433.0 L135.6 429.8 L136.3 427.2 L136.9 423.6 L137.6 421.7 L138.3 417.6 L138.9 418.1 L139.6 415.2 L140.3 413.1 L140.9 412.3 L141.6 406.9 L142.3 409.2 L143.0 405.7 L143.6 404.5 L144.3 401.1 L145.0 403.2 L145.6 399.1 L146.3 399.7 L147.0 398.1 L147.6 397.5 L148.3 395.4 L149.0 396.1 L149.6 394.3 L150.3 393.1 L151.0 391.0 L151.7 394.2 L152.3 389.9 L153.0 389.8 L153.7 390.6 L154.3 389.3 L155.0 389.5 L155.7 387.0 L156.3 387.9 L157.0 387.9 L157.7 387.5 L158.3 387.1 L159.0 386.7 L159.7 387.0 L160.3 384.0 L161.0 387.3 L161.7 388.6 L162.4 385.1 L163.0 384.9 L163.7 384.2 L164.4 384.5 L165.0 384.2 L165.7 383.6 L166.4 382.8 L167.0 384.0 L167.7 383.7 L168.4 381.4 L169.0 382.6 L169.7 383.8 L170.4 380.7 L171.1 382.0 L171.7 383.1 L172.4 383.6 L173.1 382.1 L173.7 383.0 L174.4 383.2 L175.1 383.3 L175.7 382.5 L176.4 380.9 L177.1 382.3 L177.7 383.1 L178.4 381.1 L179.1 381.6 L179.8 380.9 L180.4 383.1 L181.1 386.9 L181.8 389.4 L182.4 391.8 L183.1 395.3 L183.8 396.1 L184.4 397.8 L185.1 401.3 L185.8 404.0 L186.4 406.3 L187.1 409.0 L187.8 411.3 L188.4 413.1 L189.1 415.7 L189.8 417.5 L190.5 420.7 L191.1 421.0 L191.8 423.3 L192.5 426.4 L193.1 429.5 L193.8 429.4 L194.5 430.3 L195.1 433.9 L195.8 435.6 L196.5 437.6 L197.1 438.3 L197.8 441.6 L198.5 441.6 L199.2 444.6 L199.8 445.2 L200.5 447.8 L201.2 449.7 L201.8 452.6 L202.5 453.5 L203.2 454.7 L203.8 455.5 L204.5 457.5 L205.2 459.9 L205.8 460.5 L206.5 461.5 L207.2 464.0 L207.8 465.8 L208.5 467.2 L209.2 467.6 L209.9 469.3 L210.5 472.0 L211.2 472.2 L211.9 474.4 L212.5 476.0 L213.2 475.5 L213.9 477.2 L214.5 479.9 L215.2 480.5 L215.9 481.4 L216.5 483.7 L217.2 484.4 L217.9 484.9 L218.6 488.4 L219.2 487.6 L219.9 488.4 L220.6 489.8 L221.2 492.7 L221.9 492.3 L222.6 494.5 L223.2 494.2 L223.9 495.3 L224.6 496.7 L225.2 498.7 L225.9 499.6 L226.6 499.2 L227.2 501.9 L227.9 501.6 L228.6 502.6 L229.3 504.3 L229.9 502.8 L230.6 505.8 L231.3 504.9 L231.9 509.6 L232.6 510.8 L233.3 508.7 L233.9 509.9 L234.6 511.6 L235.3 512.2 L235.9 514.8 L236.6 514.5 L237.3 515.7 L238.0 515.7 L238.6 515.5 L239.3 517.1 L240.0 517.6 L240.6 519.3 L241.3 519.9 L242.0 520.1 L242.6 521.2 L243.3 520.5 L244.0 523.2 L244.6 521.4 L245.3 524.7 L246.0 523.5 L246.7 525.9 L247.3 524.4 L248.0 526.4 L248.7 526.8 L249.3 527.2 L250.0 529.1 L250.7 530.1 L251.3 531.6 L252.0 529.3 L252.7 531.6 L253.3 532.1 L254.0 532.2 L254.7 530.9 L255.3 534.9 L256.0 533.7 L256.7 534.8 L257.4 534.5 L258.0 537.2 L258.7 536.5 L259.4 535.9 L260.0 535.7 L260.7 536.2 L261.4 539.0 L262.0 538.6 L262.7 539.3 L263.4 541.0 L264.0 541.5 L264.7 539.9 L265.4 540.9 L266.1 541.7 L266.7 540.9 L267.4 543.4 L268.1 542.5 L268.7 543.4 L269.4 543.9 L270.1 543.8 L270.7 544.5 L271.4 544.8 L272.1 545.3 L272.7 544.1 L273.4 546.6 L274.1 545.8 L274.7 546.5 L275.4 547.8 L276.1 547.1 L276.8 549.0 L277.4 547.5 L278.1 549.7 L278.8 549.8 L279.4 549.4 L280.1 549.3 L280.8 549.5 L281.4 549.9 L282.1 551.3 L282.8 552.3 L283.4 551.2 L284.1 551.8 L284.8 553.2 L285.5 551.8 L286.1 552.8 L286.8 554.2 L287.5 553.2 L288.1 555.1 L288.8 555.0 L289.5 554.1 L290.1 556.2 L290.8 555.0 L291.5 556.6 L292.1 554.9 L292.8 556.6 L293.5 556.0 L294.2 557.8" fill="none" stroke="#1838f2" stroke-width="4.2" stroke-linejoin="round" stroke-linecap="round"/>
<path d="M94.8 604.4 L95.6 604.3 L96.5 604.5 L97.3 604.3 L98.1 604.2 L99.0 604.3 L99.8 604.1 L100.6 604.6 L101.5 604.4 L102.3 604.6 L103.2 604.6 L104.0 604.5 L104.8 604.4 L105.7 604.3 L106.5 604.3 L107.3 603.9 L108.2 604.2 L109.0 604.8 L109.8 604.4 L110.7 604.6 L111.5 604.5 L112.3 604.1 L113.2 604.5 L114.0 604.8 L114.9 604.3 L115.7 604.5 L116.5 604.7 L117.4 604.6 L118.2 604.6 L119.0 604.4 L119.9 604.5 L120.7 604.4 L121.5 604.0 L122.4 604.6 L123.2 604.6 L124.1 604.5 L124.9 604.2 L125.7 604.6 L126.6 604.1 L126.7 604.4" fill="none" stroke="#8a8a8a" stroke-width="4.2" stroke-linejoin="round" stroke-linecap="round"/>
<path d="M126.7 604.4 L126.9 605.8 L127.1 590.9 L127.3 577.5 L127.5 565.5 L127.7 554.6 L127.9 544.8 L128.1 535.9 L128.3 527.8 L128.5 520.5 L128.7 513.9 L128.9 507.8 L129.1 502.3 L129.3 497.2 L129.5 492.5 L129.7 488.3 L129.9 484.3 L130.1 480.7 L130.3 477.3 L130.5 474.2 L130.7 471.2 L130.9 468.5 L131.1 466.0 L131.3 463.6 L131.5 461.3 L131.7 459.2 L131.9 457.2 L132.1 455.3 L132.3 453.4 L132.5 451.7 L132.7 450.1 L132.9 448.5" fill="none" stroke="#8a8a8a" stroke-width="1.1"/>
<path d="M126.9 605.8h0M127.1 590.9h0M127.3 577.5h0M127.5 565.5h0M127.7 554.6h0M127.9 544.8h0M128.1 535.9h0M128.3 527.8h0M128.5 520.5h0M128.7 513.9h0M128.9 507.8h0M129.1 502.3h0M129.3 497.2h0M129.5 492.5h0M129.7 488.3h0M129.9 484.3h0M130.1 480.7h0M130.3 477.3h0M130.5 474.2h0M130.7 471.2h0M130.9 468.5h0M131.1 466.0h0M131.3 463.6h0M131.5 461.3h0M131.7 459.2h0M131.9 457.2h0M132.1 455.3h0M132.3 453.4h0M132.5 451.7h0M132.7 450.1h0M132.9 448.5h0" fill="none" stroke="#8a8a8a" stroke-width="3.44" stroke-linecap="round"/>
<path d="M132.9 448.8 L133.6 443.9 L134.3 439.4 L134.9 435.7 L135.6 432.2 L136.3 428.6 L136.9 425.6 L137.6 422.9 L138.3 420.4 L138.9 417.5 L139.6 415.5 L140.3 413.5 L140.9 411.1 L141.6 409.7 L142.3 407.6 L143.0 405.8 L143.6 404.3 L144.3 403.0 L145.0 401.3 L145.6 400.2 L146.3 398.9 L147.0 397.8 L147.6 396.0 L148.3 395.5 L149.0 394.0 L149.6 393.2 L150.3 392.5 L151.0 391.4 L151.7 390.7 L152.3 389.9 L153.0 389.6 L153.7 388.5 L154.3 387.7 L155.0 387.2 L155.7 386.4 L156.3 385.8 L157.0 385.5 L157.7 384.6 L158.3 385.1 L159.0 384.3 L159.7 384.6 L160.3 383.3 L161.0 383.1 L161.7 382.3 L162.4 382.6 L163.0 382.7 L163.7 381.5 L164.4 382.0 L165.0 381.7 L165.7 381.1 L166.4 380.7 L167.0 380.8 L167.7 380.4 L168.4 380.7 L169.0 379.6 L169.7 379.9 L170.4 379.7 L171.1 379.4 L171.7 379.4 L172.4 379.2 L173.1 379.4 L173.7 379.0 L174.4 378.8 L175.1 378.5 L175.7 378.7 L176.4 378.6 L177.1 378.4 L177.7 378.2 L178.4 378.3 L179.1 378.3 L179.8 378.3 L180.4 380.5 L181.1 383.3 L181.8 385.9 L182.4 387.5 L183.1 390.7 L183.8 393.1 L184.4 395.7 L185.1 398.4 L185.8 400.2 L186.4 402.9 L187.1 405.1 L187.8 407.1 L188.4 409.3 L189.1 411.7 L189.8 414.0 L190.5 415.5 L191.1 418.1 L191.8 420.6 L192.5 422.2 L193.1 424.4 L193.8 426.4 L194.5 428.2 L195.1 430.3 L195.8 431.7 L196.5 434.1 L197.1 436.0 L197.8 437.6 L198.5 439.9 L199.2 441.2 L199.8 443.3 L200.5 444.7 L201.2 447.0 L201.8 448.4 L202.5 450.6 L203.2 452.0 L203.8 453.5 L204.5 455.0 L205.2 456.2 L205.8 457.8 L206.5 460.2 L207.2 461.6 L207.8 462.5 L208.5 464.3 L209.2 466.2 L209.9 467.2 L210.5 469.1 L211.2 470.4 L211.9 471.9 L212.5 473.0 L213.2 473.7 L213.9 475.5 L214.5 477.0 L215.2 477.6 L215.9 479.7 L216.5 480.9 L217.2 482.2 L217.9 483.2 L218.6 484.7 L219.2 485.4 L219.9 487.1 L220.6 488.0 L221.2 489.2 L221.9 490.7 L222.6 491.9 L223.2 492.7 L223.9 494.4 L224.6 494.9 L225.2 495.9 L225.9 497.0 L226.6 498.1 L227.2 499.0 L227.9 500.2 L228.6 500.9 L229.3 502.5 L229.9 502.8 L230.6 504.3 L231.3 504.8 L231.9 506.0 L232.6 507.0 L233.3 508.0 L233.9 508.3 L234.6 509.8 L235.3 510.8 L235.9 511.2 L236.6 512.1 L237.3 513.0 L238.0 514.1 L238.6 514.8 L239.3 515.2 L240.0 516.5 L240.6 516.9 L241.3 517.6 L242.0 518.5 L242.6 519.7 L243.3 519.6 L244.0 520.8 L244.6 521.5 L245.3 522.4 L246.0 523.2 L246.7 523.7 L247.3 524.3 L248.0 525.3 L248.7 525.7 L249.3 526.1 L250.0 526.9 L250.7 527.7 L251.3 528.0 L252.0 528.7 L252.7 529.3 L253.3 530.4 L254.0 531.3 L254.7 531.2 L255.3 531.9 L256.0 532.6 L256.7 533.0 L257.4 533.8 L258.0 534.4 L258.7 534.3 L259.4 535.8 L260.0 535.6 L260.7 536.1 L261.4 536.4 L262.0 537.4 L262.7 537.8 L263.4 538.7 L264.0 538.9 L264.7 540.0 L265.4 540.1 L266.1 540.4 L266.7 540.9 L267.4 541.4 L268.1 541.4 L268.7 542.7 L269.4 542.6 L270.1 543.2 L270.7 543.5 L271.4 543.9 L272.1 543.8 L272.7 545.1 L273.4 544.8 L274.1 545.2 L274.7 546.0 L275.4 546.6 L276.1 547.1 L276.8 547.4 L277.4 547.0 L278.1 548.5 L278.8 548.2 L279.4 548.8 L280.1 548.5 L280.8 549.3 L281.4 550.1 L282.1 550.2 L282.8 550.4 L283.4 550.7 L284.1 551.3 L284.8 551.5 L285.5 551.8 L286.1 551.9 L286.8 552.3 L287.5 552.6 L288.1 553.1 L288.8 553.1 L289.5 553.7 L290.1 554.1 L290.8 554.3 L291.5 554.5 L292.1 554.8 L292.8 555.5 L293.5 554.9 L294.2 555.4" fill="none" stroke="#8a8a8a" stroke-width="4.2" stroke-linejoin="round" stroke-linecap="round"/>
<path d="M94.8 605.1 L95.6 605.1 L96.5 604.0 L97.3 605.7 L98.1 604.5 L99.0 605.7 L99.8 603.8 L100.6 604.3 L101.5 603.7 L102.3 604.7 L103.2 604.2 L104.0 604.6 L104.8 604.8 L105.7 604.3 L106.5 605.1 L107.3 604.6 L108.2 604.0 L109.0 604.4 L109.8 604.6 L110.7 603.2 L111.5 604.4 L112.3 604.7 L113.2 604.3 L114.0 604.7 L114.9 604.6 L115.7 604.6 L116.5 603.3 L117.4 604.4 L118.2 604.3 L119.0 604.0 L119.9 603.3 L120.7 604.5 L121.5 604.8 L122.4 603.0 L123.2 605.2 L124.1 604.6 L124.9 604.0 L125.7 603.1 L126.6 604.9 L126.7 604.4" fill="none" stroke="#1a98f2" stroke-width="4.2" stroke-linejoin="round" stroke-linecap="round"/>
<path d="M126.7 604.4 L126.9 605.8 L127.1 598.4 L127.3 591.4 L127.5 584.7 L127.7 578.3 L127.9 572.2 L128.1 566.4 L128.3 560.9 L128.5 555.6 L128.7 550.6 L128.9 545.7 L129.1 541.1 L129.3 536.7 L129.5 532.5 L129.7 528.4 L129.9 524.5 L130.1 520.7 L130.3 517.2 L130.5 513.7 L130.7 510.4 L130.9 507.2 L131.1 504.1 L131.3 501.1 L131.5 498.3 L131.7 495.5 L131.9 492.8 L132.1 490.2 L132.3 487.8 L132.5 485.3 L132.7 483.0 L132.9 480.8" fill="none" stroke="#1a98f2" stroke-width="1.1"/>
<path d="M126.9 605.8h0M127.1 598.4h0M127.3 591.4h0M127.5 584.7h0M127.7 578.3h0M127.9 572.2h0M128.1 566.4h0M128.3 560.9h0M128.5 555.6h0M128.7 550.6h0M128.9 545.7h0M129.1 541.1h0M129.3 536.7h0M129.5 532.5h0M129.7 528.4h0M129.9 524.5h0M130.1 520.7h0M130.3 517.2h0M130.5 513.7h0M130.7 510.4h0M130.9 507.2h0M131.1 504.1h0M131.3 501.1h0M131.5 498.3h0M131.7 495.5h0M131.9 492.8h0M132.1 490.2h0M132.3 487.8h0M132.5 485.3h0M132.7 483.0h0M132.9 480.8h0" fill="none" stroke="#1a98f2" stroke-width="3.44" stroke-linecap="round"/>
<path d="M132.9 482.4 L133.6 473.3 L134.3 467.7 L134.9 461.8 L135.6 455.9 L136.3 451.2 L136.9 446.7 L137.6 443.0 L138.3 437.9 L138.9 434.2 L139.6 431.8 L140.3 429.0 L140.9 425.2 L141.6 422.6 L142.3 421.0 L143.0 418.1 L143.6 414.8 L144.3 413.4 L145.0 411.4 L145.6 409.1 L146.3 407.4 L147.0 405.6 L147.6 405.3 L148.3 401.2 L149.0 400.7 L149.6 400.1 L150.3 397.4 L151.0 396.6 L151.7 395.6 L152.3 393.8 L153.0 391.9 L153.7 392.0 L154.3 390.3 L155.0 389.0 L155.7 390.3 L156.3 389.2 L157.0 387.5 L157.7 388.4 L158.3 386.7 L159.0 385.0 L159.7 384.5 L160.3 384.2 L161.0 385.4 L161.7 381.9 L162.4 382.6 L163.0 382.0 L163.7 381.7 L164.4 382.8 L165.0 382.2 L165.7 381.6 L166.4 379.1 L167.0 380.6 L167.7 379.9 L168.4 379.6 L169.0 378.7 L169.7 378.4 L170.4 378.3 L171.1 379.1 L171.7 380.2 L172.4 377.6 L173.1 377.4 L173.7 376.5 L174.4 377.2 L175.1 377.4 L175.7 376.5 L176.4 377.7 L177.1 377.1 L177.7 377.0 L178.4 375.9 L179.1 374.5 L179.8 375.3 L180.4 377.7 L181.1 380.8 L181.8 383.0 L182.4 385.7 L183.1 387.6 L183.8 391.1 L184.4 392.1 L185.1 393.9 L185.8 394.2 L186.4 396.0 L187.1 397.2 L187.8 398.5 L188.4 401.3 L189.1 401.8 L189.8 402.6 L190.5 405.4 L191.1 406.0 L191.8 408.2 L192.5 410.5 L193.1 410.6 L193.8 412.5 L194.5 413.1 L195.1 414.7 L195.8 415.4 L196.5 418.3 L197.1 416.5 L197.8 418.2 L198.5 420.5 L199.2 422.1 L199.8 422.6 L200.5 423.2 L201.2 424.5 L201.8 425.6 L202.5 428.3 L203.2 428.8 L203.8 428.2 L204.5 430.0 L205.2 432.3 L205.8 432.9 L206.5 434.3 L207.2 435.1 L207.8 434.6 L208.5 436.5 L209.2 436.6 L209.9 438.3 L210.5 440.4 L211.2 440.8 L211.9 439.7 L212.5 442.8 L213.2 444.0 L213.9 443.3 L214.5 445.1 L215.2 446.1 L215.9 446.0 L216.5 449.2 L217.2 448.6 L217.9 450.5 L218.6 451.7 L219.2 452.2 L219.9 451.7 L220.6 453.5 L221.2 455.5 L221.9 455.9 L222.6 454.9 L223.2 456.1 L223.9 458.5 L224.6 456.8 L225.2 459.7 L225.9 461.1 L226.6 461.2 L227.2 461.2 L227.9 461.6 L228.6 462.8 L229.3 464.6 L229.9 465.5 L230.6 467.0 L231.3 466.8 L231.9 467.9 L232.6 468.1 L233.3 469.9 L233.9 470.2 L234.6 471.2 L235.3 472.2 L235.9 472.9 L236.6 473.6 L237.3 474.4 L238.0 473.9 L238.6 475.0 L239.3 476.7 L240.0 476.1 L240.6 477.0 L241.3 476.9 L242.0 478.8 L242.6 479.5 L243.3 480.5 L244.0 480.6 L244.6 481.0 L245.3 481.9 L246.0 482.9 L246.7 483.0 L247.3 484.0 L248.0 484.6 L248.7 486.1 L249.3 485.9 L250.0 487.4 L250.7 487.9 L251.3 487.9 L252.0 487.1 L252.7 488.5 L253.3 489.9 L254.0 490.6 L254.7 490.4 L255.3 490.7 L256.0 491.4 L256.7 493.0 L257.4 493.4 L258.0 494.3 L258.7 494.9 L259.4 495.9 L260.0 496.0 L260.7 498.0 L261.4 497.9 L262.0 497.3 L262.7 498.8 L263.4 498.3 L264.0 500.2 L264.7 500.1 L265.4 500.1 L266.1 501.6 L266.7 501.9 L267.4 500.2 L268.1 503.0 L268.7 503.5 L269.4 504.0 L270.1 504.1 L270.7 504.6 L271.4 504.4 L272.1 505.1 L272.7 506.4 L273.4 506.9 L274.1 508.1 L274.7 508.7 L275.4 508.7 L276.1 508.1 L276.8 509.0 L277.4 509.0 L278.1 509.4 L278.8 510.7 L279.4 509.5 L280.1 511.9 L280.8 512.4 L281.4 512.7 L282.1 512.1 L282.8 513.4 L283.4 514.3 L284.1 513.9 L284.8 513.9 L285.5 515.2 L286.1 515.7 L286.8 515.2 L287.5 515.7 L288.1 516.2 L288.8 517.8 L289.5 517.5 L290.1 517.9 L290.8 519.8 L291.5 518.1 L292.1 519.3 L292.8 520.0 L293.5 518.6 L294.2 520.5" fill="none" stroke="#1a98f2" stroke-width="4.2" stroke-linejoin="round" stroke-linecap="round"/>
<path d="M94.8 604.4 L95.6 604.5 L96.5 604.5 L97.3 604.4 L98.1 604.3 L99.0 604.4 L99.8 604.5 L100.6 604.4 L101.5 604.5 L102.3 604.3 L103.2 604.4 L104.0 604.3 L104.8 604.4 L105.7 604.5 L106.5 604.5 L107.3 604.4 L108.2 604.4 L109.0 604.3 L109.8 604.4 L110.7 604.5 L111.5 604.4 L112.3 604.5 L113.2 604.4 L114.0 604.5 L114.9 604.3 L115.7 604.3 L116.5 604.4 L117.4 604.5 L118.2 604.4 L119.0 604.4 L119.9 604.5 L120.7 604.5 L121.5 604.3 L122.4 604.4 L123.2 604.4 L124.1 604.3 L124.9 604.5 L125.7 604.3 L126.6 604.3 L126.7 604.4" fill="none" stroke="#000000" stroke-width="4.5" stroke-linejoin="round" stroke-linecap="round"/>
<path d="M126.7 604.4 L126.9 605.8 L127.1 594.0 L127.3 583.2 L127.5 573.3 L127.7 564.2 L127.9 555.9 L128.1 548.2 L128.3 541.1 L128.5 534.5 L128.7 528.4 L128.9 522.8 L129.1 517.6 L129.3 512.8 L129.5 508.3 L129.7 504.1 L129.9 500.2 L130.1 496.6 L130.3 493.2 L130.5 490.0 L130.7 487.0 L130.9 484.1 L131.1 481.5 L131.3 478.9 L131.5 476.5 L131.7 474.3 L131.9 472.1 L132.1 470.1 L132.3 468.1 L132.5 466.2 L132.7 464.4 L132.9 462.7" fill="none" stroke="#000000" stroke-width="1.1"/>
<path d="M126.9 605.8h0M127.1 594.0h0M127.3 583.2h0M127.5 573.3h0M127.7 564.2h0M127.9 555.9h0M128.1 548.2h0M128.3 541.1h0M128.5 534.5h0M128.7 528.4h0M128.9 522.8h0M129.1 517.6h0M129.3 512.8h0M129.5 508.3h0M129.7 504.1h0M129.9 500.2h0M130.1 496.6h0M130.3 493.2h0M130.5 490.0h0M130.7 487.0h0M130.9 484.1h0M131.1 481.5h0M131.3 478.9h0M131.5 476.5h0M131.7 474.3h0M131.9 472.1h0M132.1 470.1h0M132.3 468.1h0M132.5 466.2h0M132.7 464.4h0M132.9 462.7h0" fill="none" stroke="#000000" stroke-width="3.69" stroke-linecap="round"/>
<path d="M132.9 462.8 L133.6 457.6 L134.3 452.9 L134.9 448.5 L135.6 445.0 L136.3 441.1 L136.9 437.9 L137.6 434.9 L138.3 432.0 L138.9 429.2 L139.6 426.6 L140.3 424.0 L140.9 421.8 L141.6 419.4 L142.3 417.3 L143.0 415.4 L143.6 413.4 L144.3 411.6 L145.0 409.8 L145.6 408.0 L146.3 406.3 L147.0 404.9 L147.6 403.4 L148.3 402.0 L149.0 400.7 L149.6 399.5 L150.3 397.9 L151.0 397.0 L151.7 395.9 L152.3 394.8 L153.0 393.6 L153.7 392.4 L154.3 391.5 L155.0 390.7 L155.7 389.9 L156.3 389.1 L157.0 388.4 L157.7 387.5 L158.3 386.9 L159.0 386.0 L159.7 385.5 L160.3 384.9 L161.0 384.4 L161.7 383.8 L162.4 383.0 L163.0 382.5 L163.7 382.2 L164.4 381.7 L165.0 381.1 L165.7 380.7 L166.4 380.2 L167.0 379.8 L167.7 379.5 L168.4 379.2 L169.0 378.7 L169.7 378.3 L170.4 378.0 L171.1 377.6 L171.7 377.3 L172.4 377.2 L173.1 376.8 L173.7 376.8 L174.4 376.3 L175.1 376.1 L175.7 375.8 L176.4 375.6 L177.1 375.5 L177.7 375.3 L178.4 375.0 L179.1 374.9 L179.8 374.7 L180.4 376.2 L181.1 377.6 L181.8 379.1 L182.4 380.6 L183.1 382.1 L183.8 383.6 L184.4 384.8 L185.1 386.3 L185.8 387.7 L186.4 389.1 L187.1 390.5 L187.8 391.7 L188.4 393.1 L189.1 394.7 L189.8 395.8 L190.5 397.2 L191.1 398.5 L191.8 399.8 L192.5 400.9 L193.1 402.4 L193.8 403.6 L194.5 404.9 L195.1 406.4 L195.8 407.3 L196.5 408.7 L197.1 410.0 L197.8 411.1 L198.5 412.2 L199.2 413.7 L199.8 414.9 L200.5 416.0 L201.2 417.4 L201.8 418.5 L202.5 419.5 L203.2 420.6 L203.8 421.8 L204.5 422.9 L205.2 424.0 L205.8 425.3 L206.5 426.4 L207.2 427.5 L207.8 428.6 L208.5 429.6 L209.2 430.7 L209.9 432.1 L210.5 432.9 L211.2 434.1 L211.9 435.2 L212.5 436.0 L213.2 437.0 L213.9 438.1 L214.5 439.2 L215.2 440.1 L215.9 441.4 L216.5 442.2 L217.2 443.3 L217.9 444.3 L218.6 445.4 L219.2 446.1 L219.9 447.0 L220.6 448.1 L221.2 449.2 L221.9 450.1 L222.6 451.1 L223.2 452.0 L223.9 452.7 L224.6 453.7 L225.2 454.7 L225.9 455.6 L226.6 456.5 L227.2 457.4 L227.9 458.3 L228.6 459.2 L229.3 460.1 L229.9 460.9 L230.6 461.9 L231.3 462.7 L231.9 463.6 L232.6 464.2 L233.3 465.1 L233.9 466.1 L234.6 467.0 L235.3 467.7 L235.9 468.5 L236.6 469.4 L237.3 470.1 L238.0 470.8 L238.6 471.8 L239.3 472.4 L240.0 473.4 L240.6 474.1 L241.3 474.9 L242.0 475.7 L242.6 476.5 L243.3 477.3 L244.0 477.9 L244.6 478.7 L245.3 479.4 L246.0 480.0 L246.7 480.8 L247.3 481.5 L248.0 482.3 L248.7 483.0 L249.3 483.7 L250.0 484.4 L250.7 485.0 L251.3 485.9 L252.0 486.5 L252.7 487.2 L253.3 487.8 L254.0 488.5 L254.7 489.3 L255.3 489.9 L256.0 490.5 L256.7 491.2 L257.4 491.7 L258.0 492.5 L258.7 493.3 L259.4 493.8 L260.0 494.3 L260.7 495.1 L261.4 495.6 L262.0 496.6 L262.7 496.7 L263.4 497.7 L264.0 498.2 L264.7 498.8 L265.4 499.5 L266.1 499.9 L266.7 500.6 L267.4 501.2 L268.1 501.9 L268.7 502.2 L269.4 502.7 L270.1 503.4 L270.7 503.9 L271.4 504.4 L272.1 505.0 L272.7 505.5 L273.4 506.1 L274.1 506.6 L274.7 507.2 L275.4 507.7 L276.1 508.3 L276.8 508.8 L277.4 509.4 L278.1 510.1 L278.8 510.5 L279.4 511.0 L280.1 511.3 L280.8 512.0 L281.4 512.6 L282.1 512.9 L282.8 513.3 L283.4 513.9 L284.1 514.4 L284.8 514.9 L285.5 515.4 L286.1 515.8 L286.8 516.4 L287.5 516.9 L288.1 517.4 L288.8 517.8 L289.5 518.3 L290.1 518.7 L290.8 519.1 L291.5 519.5 L292.1 520.2 L292.8 520.5 L293.5 521.0 L294.2 521.4" fill="none" stroke="#000000" stroke-width="4.5" stroke-linejoin="round" stroke-linecap="round"/>
<line x1="179.50" y1="329.00" x2="179.50" y2="348.50" stroke="#000" stroke-width="1.6" />
<path d="M171.0 347.5 L188.0 347.5 L179.5 365.0 Z" fill="#000"/>
<text transform="translate(198.0 331.5) scale(1.07 1)" font-size="18.5" text-anchor="start" fill="#000000" >Mock</text>
<text transform="translate(198.0 355.5) scale(1.07 1)" font-size="18.5" text-anchor="start" fill="#1a98f2" >Nb20</text>
<text transform="translate(198.0 378.0) scale(1.07 1)" font-size="18.5" text-anchor="start" fill="#8a8a8a" >Mock</text>
<text transform="translate(198.0 403.0) scale(1.07 1)" font-size="18.5" text-anchor="start" fill="#1838f2" >Nb20</text>
<line x1="252.50" y1="371.00" x2="252.50" y2="403.50" stroke="#000" stroke-width="2.9" />
<text transform="translate(256.0 394.0) scale(1.07 1)" font-size="18.5" text-anchor="start" fill="#000" >RGS7/Gβ5</text>
<line x1="401.50" y1="351.20" x2="401.50" y2="606.25" stroke="#000" stroke-width="1.8" />
<line x1="393.00" y1="605.30" x2="602.50" y2="605.30" stroke="#000" stroke-width="1.8" />
<line x1="393.00" y1="559.08" x2="401.50" y2="559.08" stroke="#000" stroke-width="1.8" />
<line x1="393.00" y1="512.86" x2="401.50" y2="512.86" stroke="#000" stroke-width="1.8" />
<line x1="393.00" y1="466.64" x2="401.50" y2="466.64" stroke="#000" stroke-width="1.8" />
<line x1="393.00" y1="420.42" x2="401.50" y2="420.42" stroke="#000" stroke-width="1.8" />
<line x1="393.00" y1="374.20" x2="401.50" y2="374.20" stroke="#000" stroke-width="1.8" />
<text transform="translate(388.3 610.6) scale(1.0 1)" font-size="19.6" text-anchor="end" fill="#000" >0</text>
<text transform="translate(388.3 564.4) scale(1.0 1)" font-size="19.6" text-anchor="end" fill="#000" >20</text>
<text transform="translate(388.3 518.2) scale(1.0 1)" font-size="19.6" text-anchor="end" fill="#000" >40</text>
<text transform="translate(388.3 471.9) scale(1.0 1)" font-size="19.6" text-anchor="end" fill="#000" >60</text>
<text transform="translate(388.3 425.7) scale(1.0 1)" font-size="19.6" text-anchor="end" fill="#000" >80</text>
<text transform="translate(388.3 379.5) scale(1.0 1)" font-size="19.6" text-anchor="end" fill="#000" >100</text>
<line x1="434.30" y1="605.30" x2="434.30" y2="613.80" stroke="#000" stroke-width="1.8" />
<text transform="translate(434.3 636.6) scale(1.0 1)" font-size="19.6" text-anchor="middle" fill="#000" >0</text>
<line x1="467.75" y1="605.30" x2="467.75" y2="613.80" stroke="#000" stroke-width="1.8" />
<text transform="translate(467.8 636.6) scale(1.0 1)" font-size="19.6" text-anchor="middle" fill="#000" >10</text>
<line x1="501.20" y1="605.30" x2="501.20" y2="613.80" stroke="#000" stroke-width="1.8" />
<text transform="translate(501.2 636.6) scale(1.0 1)" font-size="19.6" text-anchor="middle" fill="#000" >20</text>
<line x1="534.65" y1="605.30" x2="534.65" y2="613.80" stroke="#000" stroke-width="1.8" />
<text transform="translate(534.6 636.6) scale(1.0 1)" font-size="19.6" text-anchor="middle" fill="#000" >30</text>
<line x1="568.10" y1="605.30" x2="568.10" y2="613.80" stroke="#000" stroke-width="1.8" />
<text transform="translate(568.1 636.6) scale(1.0 1)" font-size="19.6" text-anchor="middle" fill="#000" >40</text>
<line x1="601.55" y1="605.30" x2="601.55" y2="613.80" stroke="#000" stroke-width="1.8" />
<text transform="translate(601.5 636.6) scale(1.0 1)" font-size="19.6" text-anchor="middle" fill="#000" >50</text>
<text transform="translate(520.9 658.5) scale(1.09 1)" font-size="19.2" text-anchor="middle" fill="#000" >Time (s)</text>
<text transform="translate(344.5 460.5) rotate(-90) scale(1.07 1)" font-size="19" text-anchor="middle" fill="#000" >BRET (%)</text>
<path d="M402.2 604.0 L403.0 602.8 L403.9 604.5 L404.7 605.2 L405.5 603.7 L406.4 603.4 L407.2 603.6 L408.0 603.5 L408.9 604.0 L409.7 604.3 L410.6 604.4 L411.4 604.0 L412.2 604.1 L413.1 603.2 L413.9 603.4 L414.7 604.8 L415.6 603.3 L416.4 603.9 L417.2 603.0 L418.1 602.7 L418.9 603.4 L419.7 605.2 L420.6 603.3 L421.4 605.0 L422.3 602.7 L423.1 604.3 L423.9 604.0 L424.8 602.5 L425.6 605.1 L426.4 603.8 L427.3 604.6 L428.1 604.2 L428.9 604.4 L429.8 603.3 L430.6 604.1 L431.5 603.6 L432.3 603.4 L433.1 605.1 L434.0 602.8 L434.1 603.9" fill="none" stroke="#1a98f2" stroke-width="4.0" stroke-linejoin="round" stroke-linecap="round"/>
<path d="M434.1 603.9 L434.3 605.3 L434.5 593.8 L434.7 583.3 L434.9 573.6 L435.1 564.8 L435.3 556.7 L435.5 549.2 L435.7 542.3 L435.9 535.9 L436.1 530.1 L436.3 524.7 L436.5 519.6 L436.7 515.0 L436.9 510.7 L437.1 506.6 L437.3 502.9 L437.5 499.4 L437.7 496.1 L437.9 493.1 L438.1 490.2 L438.3 487.5 L438.5 484.9 L438.7 482.5 L438.9 480.2 L439.1 478.1 L439.3 476.0 L439.5 474.1 L439.7 472.2 L439.9 470.5 L440.1 468.8 L440.3 467.1" fill="none" stroke="#1a98f2" stroke-width="1.1"/>
<path d="M434.3 605.3h0M434.5 593.8h0M434.7 583.3h0M434.9 573.6h0M435.1 564.8h0M435.3 556.7h0M435.5 549.2h0M435.7 542.3h0M435.9 535.9h0M436.1 530.1h0M436.3 524.7h0M436.5 519.6h0M436.7 515.0h0M436.9 510.7h0M437.1 506.6h0M437.3 502.9h0M437.5 499.4h0M437.7 496.1h0M437.9 493.1h0M438.1 490.2h0M438.3 487.5h0M438.5 484.9h0M438.7 482.5h0M438.9 480.2h0M439.1 478.1h0M439.3 476.0h0M439.5 474.1h0M439.7 472.2h0M439.9 470.5h0M440.1 468.8h0M440.3 467.1h0" fill="none" stroke="#1a98f2" stroke-width="3.28" stroke-linecap="round"/>
<path d="M440.3 467.3 L441.0 463.6 L441.7 458.3 L442.3 452.8 L443.0 449.1 L443.7 447.3 L444.3 443.4 L445.0 440.3 L445.7 436.8 L446.3 435.2 L447.0 431.7 L447.7 431.0 L448.3 428.6 L449.0 425.1 L449.7 422.9 L450.4 421.6 L451.0 419.1 L451.7 417.6 L452.4 415.3 L453.0 413.2 L453.7 412.2 L454.4 410.3 L455.0 410.0 L455.7 408.7 L456.4 408.9 L457.0 405.0 L457.7 404.1 L458.4 402.4 L459.1 403.4 L459.7 401.0 L460.4 400.0 L461.1 400.1 L461.7 396.5 L462.4 395.2 L463.1 396.7 L463.7 394.1 L464.4 392.1 L465.1 394.0 L465.7 391.1 L466.4 389.8 L467.1 388.8 L467.8 391.2 L468.4 390.2 L469.1 388.3 L469.8 386.8 L470.4 388.5 L471.1 387.4 L471.8 387.2 L472.4 384.6 L473.1 385.6 L473.8 384.1 L474.4 383.5 L475.1 382.6 L475.8 382.9 L476.4 382.5 L477.1 381.3 L477.8 381.6 L478.5 382.9 L479.1 381.8 L479.8 380.1 L480.5 380.5 L481.1 380.7 L481.8 379.8 L482.5 376.6 L483.1 379.5 L483.8 378.7 L484.5 378.5 L485.1 378.9 L485.8 377.3 L486.5 377.4 L487.2 377.6 L487.8 379.0 L488.5 376.4 L489.2 378.6 L489.8 381.2 L490.5 385.4 L491.2 384.6 L491.8 387.4 L492.5 388.1 L493.2 390.0 L493.8 391.9 L494.5 391.8 L495.2 394.3 L495.8 394.8 L496.5 398.4 L497.2 399.2 L497.9 399.3 L498.5 401.7 L499.2 404.2 L499.9 405.8 L500.5 407.0 L501.2 408.0 L501.9 408.6 L502.5 410.6 L503.2 411.4 L503.9 412.6 L504.5 414.7 L505.2 414.9 L505.9 416.7 L506.6 418.9 L507.2 420.2 L507.9 421.3 L508.6 423.3 L509.2 425.1 L509.9 425.0 L510.6 426.7 L511.2 426.9 L511.9 429.2 L512.6 429.7 L513.2 430.8 L513.9 432.6 L514.6 433.1 L515.2 435.1 L515.9 435.9 L516.6 435.8 L517.3 437.3 L517.9 438.7 L518.6 440.5 L519.3 440.2 L519.9 440.0 L520.6 444.9 L521.3 442.9 L521.9 444.7 L522.6 444.8 L523.3 445.7 L523.9 448.8 L524.6 447.1 L525.3 450.2 L526.0 450.8 L526.6 450.9 L527.3 452.5 L528.0 453.1 L528.6 454.7 L529.3 456.1 L530.0 455.9 L530.6 457.8 L531.3 456.4 L532.0 458.2 L532.6 458.0 L533.3 461.3 L534.0 462.9 L534.6 463.9 L535.3 462.9 L536.0 464.5 L536.7 463.7 L537.3 466.2 L538.0 466.9 L538.7 466.0 L539.3 467.4 L540.0 467.1 L540.7 467.7 L541.3 468.8 L542.0 471.0 L542.7 471.4 L543.3 469.1 L544.0 472.1 L544.7 472.3 L545.4 473.1 L546.0 473.9 L546.7 474.7 L547.4 475.7 L548.0 476.3 L548.7 478.3 L549.4 475.5 L550.0 477.8 L550.7 479.5 L551.4 478.4 L552.0 478.8 L552.7 481.4 L553.4 481.1 L554.1 479.7 L554.7 481.2 L555.4 481.9 L556.1 481.9 L556.7 483.5 L557.4 484.2 L558.1 482.9 L558.7 485.1 L559.4 485.5 L560.1 485.3 L560.7 486.4 L561.4 488.1 L562.1 485.6 L562.7 488.0 L563.4 486.7 L564.1 488.4 L564.8 490.2 L565.4 488.3 L566.1 490.4 L566.8 491.5 L567.4 491.2 L568.1 493.6 L568.8 491.7 L569.4 493.2 L570.1 493.1 L570.8 494.2 L571.4 493.1 L572.1 493.8 L572.8 493.5 L573.5 493.4 L574.1 495.1 L574.8 495.7 L575.5 495.9 L576.1 497.3 L576.8 497.4 L577.5 496.6 L578.1 498.5 L578.8 499.9 L579.5 498.7 L580.1 498.5 L580.8 497.7 L581.5 500.1 L582.1 500.7 L582.8 500.0 L583.5 500.6 L584.2 500.6 L584.8 501.6 L585.5 501.3 L586.2 502.3 L586.8 501.2 L587.5 502.1 L588.2 502.2 L588.8 503.4 L589.5 504.7 L590.2 503.6 L590.8 504.0 L591.5 503.2 L592.2 503.6 L592.9 504.8 L593.5 505.1 L594.2 506.3 L594.9 505.7 L595.5 505.7 L596.2 506.6 L596.9 507.5 L597.5 505.5 L598.2 507.8 L598.9 505.7 L599.5 506.4 L600.2 506.3 L600.9 508.8 L601.6 507.6" fill="none" stroke="#1a98f2" stroke-width="4.0" stroke-linejoin="round" stroke-linecap="round"/>
<path d="M402.2 603.1 L403.0 603.3 L403.9 604.8 L404.7 605.2 L405.5 604.0 L406.4 603.4 L407.2 604.0 L408.0 604.9 L408.9 604.2 L409.7 603.0 L410.6 604.8 L411.4 603.2 L412.2 603.6 L413.1 603.6 L413.9 603.4 L414.7 604.3 L415.6 604.0 L416.4 602.7 L417.2 604.2 L418.1 604.2 L418.9 604.8 L419.7 604.2 L420.6 603.4 L421.4 603.1 L422.3 603.5 L423.1 603.5 L423.9 603.5 L424.8 603.7 L425.6 603.3 L426.4 604.0 L427.3 603.2 L428.1 604.0 L428.9 604.9 L429.8 604.7 L430.6 604.0 L431.5 604.2 L432.3 604.7 L433.1 604.4 L434.0 603.8 L434.1 603.9" fill="none" stroke="#8a8a8a" stroke-width="4.3" stroke-linejoin="round" stroke-linecap="round"/>
<path d="M434.1 603.9 L434.3 605.3 L434.5 593.9 L434.7 583.5 L434.9 574.0 L435.1 565.2 L435.3 557.2 L435.5 549.8 L435.7 543.0 L435.9 536.8 L436.1 531.0 L436.3 525.7 L436.5 520.8 L436.7 516.2 L436.9 512.0 L437.1 508.1 L437.3 504.4 L437.5 501.0 L437.7 497.8 L437.9 494.8 L438.1 492.0 L438.3 489.4 L438.5 486.9 L438.7 484.6 L438.9 482.4 L439.1 480.3 L439.3 478.3 L439.5 476.5 L439.7 474.7 L439.9 473.0 L440.1 471.3 L440.3 469.8" fill="none" stroke="#8a8a8a" stroke-width="1.1"/>
<path d="M434.3 605.3h0M434.5 593.9h0M434.7 583.5h0M434.9 574.0h0M435.1 565.2h0M435.3 557.2h0M435.5 549.8h0M435.7 543.0h0M435.9 536.8h0M436.1 531.0h0M436.3 525.7h0M436.5 520.8h0M436.7 516.2h0M436.9 512.0h0M437.1 508.1h0M437.3 504.4h0M437.5 501.0h0M437.7 497.8h0M437.9 494.8h0M438.1 492.0h0M438.3 489.4h0M438.5 486.9h0M438.7 484.6h0M438.9 482.4h0M439.1 480.3h0M439.3 478.3h0M439.5 476.5h0M439.7 474.7h0M439.9 473.0h0M440.1 471.3h0M440.3 469.8h0" fill="none" stroke="#8a8a8a" stroke-width="3.53" stroke-linecap="round"/>
<path d="M440.3 469.4 L441.0 464.3 L441.7 461.4 L442.3 456.6 L443.0 452.6 L443.7 449.9 L444.3 445.7 L445.0 444.6 L445.7 441.6 L446.3 438.9 L447.0 436.9 L447.7 434.2 L448.3 431.8 L449.0 429.8 L449.7 428.1 L450.4 426.1 L451.0 423.8 L451.7 423.2 L452.4 420.0 L453.0 419.3 L453.7 417.0 L454.4 416.0 L455.0 413.5 L455.7 412.4 L456.4 410.9 L457.0 409.9 L457.7 407.9 L458.4 405.5 L459.1 406.9 L459.7 403.9 L460.4 403.0 L461.1 402.3 L461.7 402.0 L462.4 398.7 L463.1 398.8 L463.7 397.2 L464.4 397.3 L465.1 396.8 L465.7 394.4 L466.4 393.9 L467.1 393.9 L467.8 393.1 L468.4 391.7 L469.1 392.1 L469.8 391.4 L470.4 390.1 L471.1 388.6 L471.8 388.1 L472.4 388.1 L473.1 386.6 L473.8 387.2 L474.4 386.9 L475.1 384.2 L475.8 385.9 L476.4 384.6 L477.1 384.1 L477.8 384.0 L478.5 383.5 L479.1 382.7 L479.8 382.5 L480.5 383.0 L481.1 382.1 L481.8 380.7 L482.5 380.9 L483.1 381.4 L483.8 380.7 L484.5 381.2 L485.1 381.2 L485.8 380.3 L486.5 378.3 L487.2 379.8 L487.8 380.6 L488.5 378.9 L489.2 381.1 L489.8 381.7 L490.5 383.1 L491.2 386.0 L491.8 387.4 L492.5 389.8 L493.2 389.8 L493.8 393.0 L494.5 394.0 L495.2 393.8 L495.8 398.0 L496.5 398.7 L497.2 400.4 L497.9 401.6 L498.5 403.1 L499.2 403.8 L499.9 406.1 L500.5 407.5 L501.2 410.4 L501.9 410.5 L502.5 413.3 L503.2 412.7 L503.9 415.1 L504.5 415.7 L505.2 418.2 L505.9 419.0 L506.6 420.5 L507.2 421.4 L507.9 423.3 L508.6 425.0 L509.2 426.1 L509.9 427.6 L510.6 429.0 L511.2 430.5 L511.9 432.0 L512.6 430.5 L513.2 433.8 L513.9 435.3 L514.6 434.8 L515.2 436.6 L515.9 438.0 L516.6 438.2 L517.3 438.8 L517.9 442.0 L518.6 441.3 L519.3 443.1 L519.9 443.7 L520.6 446.1 L521.3 445.5 L521.9 446.9 L522.6 450.9 L523.3 448.9 L523.9 449.9 L524.6 453.0 L525.3 452.7 L526.0 454.1 L526.6 454.8 L527.3 456.6 L528.0 456.3 L528.6 457.2 L529.3 458.8 L530.0 459.7 L530.6 462.0 L531.3 461.1 L532.0 463.4 L532.6 463.3 L533.3 464.8 L534.0 463.0 L534.6 465.9 L535.3 465.6 L536.0 467.6 L536.7 468.5 L537.3 468.7 L538.0 470.1 L538.7 469.1 L539.3 471.9 L540.0 471.2 L540.7 474.2 L541.3 474.8 L542.0 474.3 L542.7 476.7 L543.3 474.8 L544.0 476.7 L544.7 477.8 L545.4 477.2 L546.0 479.7 L546.7 480.6 L547.4 482.8 L548.0 482.9 L548.7 482.3 L549.4 484.4 L550.0 482.9 L550.7 483.4 L551.4 484.4 L552.0 486.7 L552.7 486.8 L553.4 487.8 L554.1 486.8 L554.7 487.2 L555.4 488.8 L556.1 489.2 L556.7 489.7 L557.4 489.9 L558.1 491.8 L558.7 492.4 L559.4 491.6 L560.1 492.4 L560.7 493.0 L561.4 493.9 L562.1 493.9 L562.7 494.7 L563.4 496.1 L564.1 494.8 L564.8 495.8 L565.4 497.4 L566.1 497.8 L566.8 498.9 L567.4 499.9 L568.1 500.1 L568.8 501.0 L569.4 500.8 L570.1 500.6 L570.8 501.3 L571.4 502.9 L572.1 502.4 L572.8 503.2 L573.5 504.1 L574.1 502.8 L574.8 505.0 L575.5 503.9 L576.1 506.4 L576.8 505.3 L577.5 506.5 L578.1 505.6 L578.8 506.5 L579.5 507.8 L580.1 507.1 L580.8 507.0 L581.5 507.4 L582.1 507.7 L582.8 509.6 L583.5 508.0 L584.2 510.5 L584.8 510.6 L585.5 512.1 L586.2 511.4 L586.8 512.8 L587.5 511.9 L588.2 513.8 L588.8 511.2 L589.5 512.4 L590.2 512.2 L590.8 512.9 L591.5 514.0 L592.2 514.1 L592.9 514.7 L593.5 516.7 L594.2 516.5 L594.9 516.2 L595.5 515.5 L596.2 517.6 L596.9 516.7 L597.5 517.6 L598.2 516.9 L598.9 517.2 L599.5 519.0 L600.2 519.3 L600.9 517.5 L601.6 518.2" fill="none" stroke="#8a8a8a" stroke-width="4.3" stroke-linejoin="round" stroke-linecap="round"/>
<path d="M402.2 603.8 L403.0 603.9 L403.9 603.9 L404.7 604.2 L405.5 603.8 L406.4 603.9 L407.2 603.4 L408.0 604.4 L408.9 602.7 L409.7 605.4 L410.6 603.9 L411.4 603.5 L412.2 604.0 L413.1 604.3 L413.9 603.9 L414.7 603.6 L415.6 603.3 L416.4 604.6 L417.2 603.8 L418.1 604.2 L418.9 603.4 L419.7 604.2 L420.6 603.9 L421.4 603.4 L422.3 604.1 L423.1 603.8 L423.9 604.3 L424.8 604.1 L425.6 604.9 L426.4 604.4 L427.3 604.2 L428.1 604.3 L428.9 602.9 L429.8 605.1 L430.6 605.0 L431.5 603.8 L432.3 603.7 L433.1 603.9 L434.0 603.4 L434.1 603.9" fill="none" stroke="#6c8fd8" stroke-width="4.3" stroke-linejoin="round" stroke-linecap="round"/>
<path d="M434.1 603.9 L434.3 605.3 L434.5 592.8 L434.7 581.3 L434.9 570.9 L435.1 561.3 L435.3 552.5 L435.5 544.4 L435.7 536.9 L435.9 530.1 L436.1 523.8 L436.3 518.0 L436.5 512.6 L436.7 507.6 L436.9 503.0 L437.1 498.7 L437.3 494.7 L437.5 491.0 L437.7 487.6 L437.9 484.4 L438.1 481.3 L438.3 478.5 L438.5 475.9 L438.7 473.4 L438.9 471.0 L439.1 468.8 L439.3 466.7 L439.5 464.7 L439.7 462.8 L439.9 461.0 L440.1 459.3 L440.3 457.6" fill="none" stroke="#6c8fd8" stroke-width="1.1"/>
<path d="M434.3 605.3h0M434.5 592.8h0M434.7 581.3h0M434.9 570.9h0M435.1 561.3h0M435.3 552.5h0M435.5 544.4h0M435.7 536.9h0M435.9 530.1h0M436.1 523.8h0M436.3 518.0h0M436.5 512.6h0M436.7 507.6h0M436.9 503.0h0M437.1 498.7h0M437.3 494.7h0M437.5 491.0h0M437.7 487.6h0M437.9 484.4h0M438.1 481.3h0M438.3 478.5h0M438.5 475.9h0M438.7 473.4h0M438.9 471.0h0M439.1 468.8h0M439.3 466.7h0M439.5 464.7h0M439.7 462.8h0M439.9 461.0h0M440.1 459.3h0M440.3 457.6h0" fill="none" stroke="#6c8fd8" stroke-width="3.53" stroke-linecap="round"/>
<path d="M440.3 456.4 L441.0 453.0 L441.7 449.1 L442.3 444.5 L443.0 440.1 L443.7 437.3 L444.3 434.7 L445.0 431.6 L445.7 429.0 L446.3 427.7 L447.0 424.1 L447.7 422.7 L448.3 420.2 L449.0 418.4 L449.7 416.1 L450.4 413.8 L451.0 412.7 L451.7 410.8 L452.4 408.8 L453.0 407.5 L453.7 406.8 L454.4 404.5 L455.0 403.9 L455.7 402.6 L456.4 401.1 L457.0 399.1 L457.7 399.4 L458.4 398.1 L459.1 396.8 L459.7 396.4 L460.4 394.9 L461.1 393.3 L461.7 394.3 L462.4 392.4 L463.1 392.1 L463.7 389.7 L464.4 389.8 L465.1 389.1 L465.7 388.9 L466.4 388.8 L467.1 387.6 L467.8 386.8 L468.4 386.5 L469.1 384.9 L469.8 385.0 L470.4 385.6 L471.1 384.8 L471.8 384.0 L472.4 384.4 L473.1 383.4 L473.8 383.3 L474.4 382.5 L475.1 382.1 L475.8 382.3 L476.4 380.8 L477.1 381.6 L477.8 380.6 L478.5 381.3 L479.1 381.0 L479.8 380.5 L480.5 380.2 L481.1 379.2 L481.8 380.4 L482.5 378.3 L483.1 379.8 L483.8 378.0 L484.5 378.5 L485.1 378.8 L485.8 377.8 L486.5 378.4 L487.2 378.0 L487.8 377.8 L488.5 376.0 L489.2 380.9 L489.8 381.7 L490.5 385.6 L491.2 388.4 L491.8 390.7 L492.5 392.1 L493.2 395.4 L493.8 398.1 L494.5 399.7 L495.2 402.2 L495.8 404.0 L496.5 407.6 L497.2 408.3 L497.9 410.7 L498.5 414.1 L499.2 416.0 L499.9 417.7 L500.5 420.2 L501.2 421.7 L501.9 423.9 L502.5 426.3 L503.2 429.0 L503.9 431.5 L504.5 432.1 L505.2 435.0 L505.9 435.4 L506.6 437.0 L507.2 439.8 L507.9 441.2 L508.6 442.8 L509.2 444.9 L509.9 447.9 L510.6 449.5 L511.2 451.0 L511.9 452.4 L512.6 454.6 L513.2 455.7 L513.9 456.7 L514.6 459.3 L515.2 460.7 L515.9 462.9 L516.6 464.0 L517.3 464.9 L517.9 466.2 L518.6 468.4 L519.3 470.5 L519.9 470.4 L520.6 474.3 L521.3 474.7 L521.9 476.4 L522.6 477.3 L523.3 478.4 L523.9 480.4 L524.6 479.4 L525.3 481.6 L526.0 483.7 L526.6 485.8 L527.3 487.7 L528.0 487.4 L528.6 488.8 L529.3 490.3 L530.0 491.0 L530.6 492.8 L531.3 495.2 L532.0 496.6 L532.6 496.9 L533.3 497.8 L534.0 498.6 L534.6 500.0 L535.3 501.4 L536.0 502.9 L536.7 503.2 L537.3 504.2 L538.0 506.0 L538.7 507.3 L539.3 508.0 L540.0 509.4 L540.7 509.7 L541.3 511.6 L542.0 511.7 L542.7 513.3 L543.3 513.5 L544.0 513.3 L544.7 516.4 L545.4 516.6 L546.0 516.2 L546.7 518.0 L547.4 519.3 L548.0 520.0 L548.7 521.4 L549.4 522.9 L550.0 524.5 L550.7 524.2 L551.4 525.0 L552.0 524.8 L552.7 526.1 L553.4 528.1 L554.1 527.6 L554.7 529.5 L555.4 528.8 L556.1 530.9 L556.7 530.5 L557.4 531.7 L558.1 532.8 L558.7 532.6 L559.4 534.1 L560.1 536.2 L560.7 535.2 L561.4 536.7 L562.1 537.1 L562.7 537.4 L563.4 537.8 L564.1 538.8 L564.8 540.2 L565.4 540.6 L566.1 541.5 L566.8 541.6 L567.4 542.5 L568.1 542.3 L568.8 543.8 L569.4 543.4 L570.1 543.5 L570.8 544.9 L571.4 545.8 L572.1 545.6 L572.8 547.4 L573.5 547.5 L574.1 547.2 L574.8 548.2 L575.5 549.2 L576.1 549.8 L576.8 550.5 L577.5 549.8 L578.1 550.0 L578.8 550.8 L579.5 552.2 L580.1 552.5 L580.8 553.7 L581.5 554.4 L582.1 553.8 L582.8 554.3 L583.5 555.9 L584.2 556.4 L584.8 555.9 L585.5 557.3 L586.2 556.3 L586.8 556.7 L587.5 558.5 L588.2 558.5 L588.8 558.2 L589.5 558.5 L590.2 559.6 L590.8 560.1 L591.5 560.6 L592.2 560.5 L592.9 560.8 L593.5 561.7 L594.2 562.3 L594.9 562.4 L595.5 562.9 L596.2 563.4 L596.9 564.3 L597.5 563.8 L598.2 563.7 L598.9 564.5 L599.5 564.2 L600.2 565.0 L600.9 565.2 L601.6 565.4" fill="none" stroke="#6c8fd8" stroke-width="4.3" stroke-linejoin="round" stroke-linecap="round"/>
<path d="M402.2 604.1 L403.0 603.7 L403.9 604.1 L404.7 603.8 L405.5 604.2 L406.4 603.7 L407.2 603.9 L408.0 603.6 L408.9 603.7 L409.7 603.9 L410.6 604.0 L411.4 603.8 L412.2 603.9 L413.1 604.1 L413.9 603.8 L414.7 604.5 L415.6 603.9 L416.4 603.4 L417.2 603.8 L418.1 604.2 L418.9 603.7 L419.7 603.9 L420.6 604.0 L421.4 604.0 L422.3 603.9 L423.1 603.7 L423.9 603.9 L424.8 603.5 L425.6 604.0 L426.4 603.7 L427.3 604.2 L428.1 604.3 L428.9 603.9 L429.8 603.8 L430.6 603.5 L431.5 604.0 L432.3 603.8 L433.1 604.2 L434.0 603.9 L434.1 603.9" fill="none" stroke="#000000" stroke-width="4.6" stroke-linejoin="round" stroke-linecap="round"/>
<path d="M434.1 603.9 L434.3 605.3 L434.5 592.1 L434.7 579.8 L434.9 568.4 L435.1 557.9 L435.3 548.1 L435.5 539.0 L435.7 530.5 L435.9 522.7 L436.1 515.4 L436.3 508.6 L436.5 502.2 L436.7 496.3 L436.9 490.8 L437.1 485.6 L437.3 480.8 L437.5 476.3 L437.7 472.1 L437.9 468.1 L438.1 464.4 L438.3 460.9 L438.5 457.6 L438.7 454.5 L438.9 451.6 L439.1 448.9 L439.3 446.3 L439.5 443.8 L439.7 441.5 L439.9 439.3 L440.1 437.2 L440.3 435.2" fill="none" stroke="#000000" stroke-width="1.1"/>
<path d="M434.3 605.3h0M434.5 592.1h0M434.7 579.8h0M434.9 568.4h0M435.1 557.9h0M435.3 548.1h0M435.5 539.0h0M435.7 530.5h0M435.9 522.7h0M436.1 515.4h0M436.3 508.6h0M436.5 502.2h0M436.7 496.3h0M436.9 490.8h0M437.1 485.6h0M437.3 480.8h0M437.5 476.3h0M437.7 472.1h0M437.9 468.1h0M438.1 464.4h0M438.3 460.9h0M438.5 457.6h0M438.7 454.5h0M438.9 451.6h0M439.1 448.9h0M439.3 446.3h0M439.5 443.8h0M439.7 441.5h0M439.9 439.3h0M440.1 437.2h0M440.3 435.2h0" fill="none" stroke="#000000" stroke-width="3.77" stroke-linecap="round"/>
<path d="M440.3 435.1 L441.0 429.4 L441.7 424.0 L442.3 419.5 L443.0 415.9 L443.7 412.8 L444.3 409.8 L445.0 406.9 L445.7 405.0 L446.3 402.2 L447.0 400.7 L447.7 398.6 L448.3 397.3 L449.0 395.7 L449.7 394.2 L450.4 392.5 L451.0 391.4 L451.7 390.2 L452.4 388.9 L453.0 388.4 L453.7 387.0 L454.4 386.5 L455.0 385.8 L455.7 384.9 L456.4 383.8 L457.0 383.0 L457.7 382.9 L458.4 382.5 L459.1 382.1 L459.7 381.1 L460.4 380.6 L461.1 380.1 L461.7 379.8 L462.4 379.1 L463.1 379.1 L463.7 378.6 L464.4 378.5 L465.1 378.4 L465.7 378.5 L466.4 377.6 L467.1 377.5 L467.8 377.2 L468.4 377.1 L469.1 376.7 L469.8 376.5 L470.4 377.0 L471.1 376.3 L471.8 375.9 L472.4 375.8 L473.1 375.8 L473.8 375.6 L474.4 375.9 L475.1 375.3 L475.8 375.4 L476.4 375.2 L477.1 374.9 L477.8 375.0 L478.5 375.3 L479.1 375.4 L479.8 374.9 L480.5 374.7 L481.1 374.6 L481.8 374.3 L482.5 374.5 L483.1 374.4 L483.8 375.0 L484.5 374.2 L485.1 374.3 L485.8 373.8 L486.5 374.1 L487.2 374.5 L487.8 374.2 L488.5 374.1 L489.2 374.5 L489.8 380.0 L490.5 384.7 L491.2 390.0 L491.8 394.8 L492.5 399.4 L493.2 404.1 L493.8 408.2 L494.5 412.6 L495.2 416.8 L495.8 420.7 L496.5 424.8 L497.2 429.0 L497.9 432.3 L498.5 436.3 L499.2 439.3 L499.9 443.1 L500.5 446.1 L501.2 448.9 L501.9 452.2 L502.5 455.6 L503.2 458.7 L503.9 461.3 L504.5 463.7 L505.2 466.5 L505.9 469.8 L506.6 471.7 L507.2 474.4 L507.9 476.7 L508.6 478.9 L509.2 481.8 L509.9 483.7 L510.6 486.0 L511.2 488.0 L511.9 490.5 L512.6 492.8 L513.2 494.4 L513.9 496.2 L514.6 498.4 L515.2 500.3 L515.9 502.1 L516.6 503.9 L517.3 505.8 L517.9 507.5 L518.6 508.7 L519.3 510.9 L519.9 512.3 L520.6 513.6 L521.3 515.2 L521.9 517.5 L522.6 518.7 L523.3 520.3 L523.9 521.5 L524.6 523.5 L525.3 524.6 L526.0 525.6 L526.6 526.8 L527.3 528.5 L528.0 529.4 L528.6 530.4 L529.3 532.2 L530.0 532.8 L530.6 534.4 L531.3 536.1 L532.0 536.6 L532.6 537.7 L533.3 538.5 L534.0 540.2 L534.6 540.5 L535.3 542.1 L536.0 543.0 L536.7 544.2 L537.3 545.0 L538.0 545.7 L538.7 547.0 L539.3 548.1 L540.0 548.7 L540.7 549.9 L541.3 550.6 L542.0 551.3 L542.7 552.4 L543.3 553.2 L544.0 554.1 L544.7 554.9 L545.4 555.5 L546.0 556.2 L546.7 557.3 L547.4 558.6 L548.0 559.3 L548.7 559.4 L549.4 560.0 L550.0 560.8 L550.7 562.0 L551.4 562.5 L552.0 563.4 L552.7 563.8 L553.4 564.6 L554.1 565.5 L554.7 565.7 L555.4 566.5 L556.1 566.6 L556.7 567.4 L557.4 568.8 L558.1 568.7 L558.7 569.8 L559.4 570.3 L560.1 570.8 L560.7 571.7 L561.4 571.0 L562.1 572.2 L562.7 573.2 L563.4 573.2 L564.1 574.6 L564.8 574.2 L565.4 575.0 L566.1 575.5 L566.8 575.8 L567.4 576.4 L568.1 576.8 L568.8 577.7 L569.4 577.8 L570.1 578.5 L570.8 578.7 L571.4 579.3 L572.1 579.6 L572.8 580.3 L573.5 580.9 L574.1 581.2 L574.8 581.1 L575.5 581.9 L576.1 582.2 L576.8 582.7 L577.5 582.7 L578.1 583.6 L578.8 584.5 L579.5 584.3 L580.1 584.7 L580.8 584.5 L581.5 585.4 L582.1 585.7 L582.8 585.8 L583.5 586.1 L584.2 586.7 L584.8 586.6 L585.5 587.4 L586.2 587.5 L586.8 588.2 L587.5 588.8 L588.2 588.7 L588.8 589.0 L589.5 589.4 L590.2 588.8 L590.8 590.2 L591.5 589.9 L592.2 589.9 L592.9 590.4 L593.5 590.7 L594.2 591.3 L594.9 591.5 L595.5 591.3 L596.2 591.5 L596.9 592.3 L597.5 592.3 L598.2 592.7 L598.9 592.7 L599.5 593.3 L600.2 593.1 L600.9 593.7 L601.6 593.8" fill="none" stroke="#000000" stroke-width="4.6" stroke-linejoin="round" stroke-linecap="round"/>
<line x1="486.50" y1="330.00" x2="486.50" y2="349.50" stroke="#000" stroke-width="1.6" />
<path d="M478.0 348.5 L495.0 348.5 L486.5 366.0 Z" fill="#000"/>
<text transform="translate(528.5 341.5) scale(1.07 1)" font-size="18.5" text-anchor="start" fill="#8a8a8a" >Mock</text>
<text transform="translate(528.5 367.0) scale(1.07 1)" font-size="18.5" text-anchor="start" fill="#1a98f2" >Nb20</text>
<text transform="translate(528.5 385.0) scale(1.07 1)" font-size="18.5" text-anchor="start" fill="#000000" >Mock</text>
<text transform="translate(528.5 410.0) scale(1.07 1)" font-size="18.5" text-anchor="start" fill="#6c8fd8" >Nb20</text>
<line x1="584.50" y1="373.00" x2="584.50" y2="405.00" stroke="#000" stroke-width="2.9" />
<text transform="translate(589.0 395.0) scale(1.07 1)" font-size="18.5" text-anchor="start" fill="#000" >RGS7/Gβ5</text>
<line x1="94.30" y1="684.85" x2="94.30" y2="943.45" stroke="#000" stroke-width="1.8" />
<line x1="85.80" y1="942.50" x2="295.50" y2="942.50" stroke="#000" stroke-width="1.8" />
<line x1="85.80" y1="942.50" x2="94.30" y2="942.50" stroke="#000" stroke-width="1.8" />
<text transform="translate(77.7 947.5) scale(1.0 1)" font-size="19.6" text-anchor="end" fill="#000" >0</text>
<line x1="85.80" y1="891.16" x2="94.30" y2="891.16" stroke="#000" stroke-width="1.8" />
<text transform="translate(81.1 897.5) scale(1.0 1)" font-size="19.6" text-anchor="end" fill="#000" >0.05</text>
<line x1="85.80" y1="839.82" x2="94.30" y2="839.82" stroke="#000" stroke-width="1.8" />
<text transform="translate(81.1 846.1) scale(1.0 1)" font-size="19.6" text-anchor="end" fill="#000" >0.10</text>
<line x1="85.80" y1="788.48" x2="94.30" y2="788.48" stroke="#000" stroke-width="1.8" />
<text transform="translate(81.1 794.8) scale(1.0 1)" font-size="19.6" text-anchor="end" fill="#000" >0.15</text>
<line x1="85.80" y1="737.14" x2="94.30" y2="737.14" stroke="#000" stroke-width="1.8" />
<text transform="translate(81.1 743.4) scale(1.0 1)" font-size="19.6" text-anchor="end" fill="#000" >0.20</text>
<line x1="85.80" y1="685.80" x2="94.30" y2="685.80" stroke="#000" stroke-width="1.8" />
<text transform="translate(81.1 692.1) scale(1.0 1)" font-size="19.6" text-anchor="end" fill="#000" >0.25</text>
<line x1="124.70" y1="942.50" x2="124.70" y2="951.00" stroke="#000" stroke-width="1.8" />
<line x1="171.60" y1="942.50" x2="171.60" y2="951.00" stroke="#000" stroke-width="1.8" />
<line x1="217.80" y1="942.50" x2="217.80" y2="951.00" stroke="#000" stroke-width="1.8" />
<line x1="264.70" y1="942.50" x2="264.70" y2="951.00" stroke="#000" stroke-width="1.8" />
<rect x="105.0" y="869.4" width="18.3" height="73.1" fill="#808080" stroke="#000" stroke-width="1.8"/>
<rect x="126.5" y="868.5" width="18.5" height="74.0" fill="#a5b9e5" stroke="#6b90d9" stroke-width="1.8"/>
<rect x="151.9" y="871.4" width="18.3" height="71.1" fill="#808080" stroke="#000" stroke-width="1.8"/>
<rect x="173.4" y="866.4" width="18.5" height="76.1" fill="#a5b9e5" stroke="#6b90d9" stroke-width="1.8"/>
<rect x="199.1" y="803.7" width="18.3" height="138.8" fill="#808080" stroke="#000" stroke-width="1.8"/>
<rect x="220.2" y="797.5" width="18.5" height="145.0" fill="#a5b9e5" stroke="#6b90d9" stroke-width="1.8"/>
<rect x="245.7" y="755.1" width="18.6" height="187.4" fill="#808080" stroke="#000" stroke-width="1.8"/>
<rect x="267.1" y="832.0" width="18.2" height="110.5" fill="#a5b9e5" stroke="#6b90d9" stroke-width="1.8"/>
<line x1="114.15" y1="863.60" x2="114.15" y2="872.80" stroke="#000" stroke-width="1.4" />
<line x1="108.55" y1="863.60" x2="119.75" y2="863.60" stroke="#000" stroke-width="1.4" />
<line x1="108.55" y1="872.80" x2="119.75" y2="872.80" stroke="#000" stroke-width="1.4" />
<g fill="#000"><circle cx="112.6" cy="846.4" r="3"/><circle cx="117.0" cy="850.4" r="3"/><circle cx="111.9" cy="854.1" r="3"/><circle cx="115.5" cy="856.0" r="3"/><circle cx="107.5" cy="860.4" r="3"/><circle cx="112.6" cy="860.7" r="3"/><circle cx="117.0" cy="860.7" r="3"/><circle cx="113.3" cy="878.9" r="3"/><circle cx="116.2" cy="877.4" r="3"/><circle cx="112.6" cy="889.6" r="3"/><circle cx="119.2" cy="890.1" r="3"/><circle cx="115.5" cy="893.1" r="3"/><circle cx="108.9" cy="895.0" r="3"/></g>
<line x1="135.75" y1="861.10" x2="135.75" y2="872.40" stroke="#6b90d9" stroke-width="1.4" />
<line x1="130.15" y1="861.10" x2="141.35" y2="861.10" stroke="#6b90d9" stroke-width="1.4" />
<line x1="130.15" y1="872.40" x2="141.35" y2="872.40" stroke="#6b90d9" stroke-width="1.4" />
<g fill="#6b90d9"><circle cx="136.2" cy="836.9" r="3"/><circle cx="129.4" cy="844.6" r="3"/><circle cx="133.0" cy="845.8" r="3"/><circle cx="143.3" cy="850.4" r="3"/><circle cx="136.7" cy="850.1" r="3"/><circle cx="139.6" cy="853.1" r="3"/><circle cx="132.3" cy="855.5" r="3"/><circle cx="136.0" cy="856.3" r="3"/><circle cx="136.0" cy="871.6" r="3"/><circle cx="136.0" cy="880.4" r="3"/><circle cx="130.8" cy="886.6" r="3"/><circle cx="134.2" cy="889.1" r="3"/><circle cx="138.1" cy="888.4" r="3"/><circle cx="141.1" cy="891.3" r="3"/><circle cx="136.0" cy="897.9" r="3"/></g>
<line x1="161.05" y1="864.70" x2="161.05" y2="876.30" stroke="#000" stroke-width="1.4" />
<line x1="155.45" y1="864.70" x2="166.65" y2="864.70" stroke="#000" stroke-width="1.4" />
<line x1="155.45" y1="876.30" x2="166.65" y2="876.30" stroke="#000" stroke-width="1.4" />
<g fill="#000"><circle cx="153.9" cy="842.4" r="3"/><circle cx="163.0" cy="843.9" r="3"/><circle cx="158.6" cy="847.2" r="3"/><circle cx="167.8" cy="847.2" r="3"/><circle cx="158.6" cy="853.6" r="3"/><circle cx="163.0" cy="853.4" r="3"/><circle cx="157.9" cy="876.0" r="3"/><circle cx="154.2" cy="876.7" r="3"/><circle cx="167.3" cy="876.7" r="3"/><circle cx="163.0" cy="885.8" r="3"/><circle cx="153.9" cy="888.4" r="3"/><circle cx="167.3" cy="892.0" r="3"/><circle cx="163.0" cy="896.4" r="3"/><circle cx="154.2" cy="897.9" r="3"/></g>
<line x1="182.65" y1="859.50" x2="182.65" y2="871.60" stroke="#6b90d9" stroke-width="1.4" />
<line x1="177.05" y1="859.50" x2="188.25" y2="859.50" stroke="#6b90d9" stroke-width="1.4" />
<line x1="177.05" y1="871.60" x2="188.25" y2="871.60" stroke="#6b90d9" stroke-width="1.4" />
<g fill="#6b90d9"><circle cx="182.7" cy="836.6" r="3"/><circle cx="182.7" cy="846.1" r="3"/><circle cx="179.0" cy="849.0" r="3"/><circle cx="186.3" cy="849.0" r="3"/><circle cx="182.7" cy="851.9" r="3"/><circle cx="176.1" cy="854.1" r="3"/><circle cx="189.7" cy="853.4" r="3"/><circle cx="179.8" cy="857.0" r="3"/><circle cx="185.6" cy="857.0" r="3"/><circle cx="182.7" cy="861.4" r="3"/><circle cx="182.7" cy="864.3" r="3"/><circle cx="182.7" cy="871.6" r="3"/><circle cx="182.7" cy="882.3" r="3"/><circle cx="182.7" cy="893.5" r="3"/><circle cx="184.9" cy="901.5" r="3"/><circle cx="181.2" cy="903.7" r="3"/></g>
<line x1="208.25" y1="795.30" x2="208.25" y2="810.00" stroke="#000" stroke-width="1.4" />
<line x1="202.65" y1="795.30" x2="213.85" y2="795.30" stroke="#000" stroke-width="1.4" />
<line x1="202.65" y1="810.00" x2="213.85" y2="810.00" stroke="#000" stroke-width="1.4" />
<g fill="#000"><circle cx="207.3" cy="732.1" r="3"/><circle cx="200.4" cy="783.5" r="3"/><circle cx="205.3" cy="781.9" r="3"/><circle cx="214.4" cy="781.5" r="3"/><circle cx="210.1" cy="785.1" r="3"/><circle cx="205.3" cy="789.2" r="3"/><circle cx="200.4" cy="806.5" r="3"/><circle cx="205.3" cy="805.7" r="3"/><circle cx="214.1" cy="808.9" r="3"/><circle cx="210.1" cy="809.7" r="3"/><circle cx="205.3" cy="814.5" r="3"/><circle cx="214.1" cy="814.5" r="3"/><circle cx="209.8" cy="817.3" r="3"/><circle cx="207.3" cy="823.7" r="3"/><circle cx="210.1" cy="841.8" r="3"/><circle cx="205.3" cy="846.6" r="3"/></g>
<line x1="229.45" y1="790.00" x2="229.45" y2="800.80" stroke="#6b90d9" stroke-width="1.4" />
<line x1="223.85" y1="790.00" x2="235.05" y2="790.00" stroke="#6b90d9" stroke-width="1.4" />
<line x1="223.85" y1="800.80" x2="235.05" y2="800.80" stroke="#6b90d9" stroke-width="1.4" />
<g fill="#6b90d9"><circle cx="229.3" cy="755.5" r="3"/><circle cx="229.3" cy="764.2" r="3"/><circle cx="229.3" cy="771.1" r="3"/><circle cx="236.6" cy="769.2" r="3"/><circle cx="229.3" cy="780.4" r="3"/><circle cx="229.3" cy="792.8" r="3"/><circle cx="236.6" cy="796.1" r="3"/><circle cx="229.3" cy="800.1" r="3"/><circle cx="236.6" cy="804.1" r="3"/><circle cx="222.9" cy="808.9" r="3"/><circle cx="229.3" cy="808.9" r="3"/><circle cx="236.6" cy="813.7" r="3"/><circle cx="229.3" cy="830.6" r="3"/><circle cx="229.3" cy="851.8" r="3"/></g>
<line x1="255.00" y1="742.20" x2="255.00" y2="766.00" stroke="#000" stroke-width="1.4" />
<line x1="249.40" y1="742.20" x2="260.60" y2="742.20" stroke="#000" stroke-width="1.4" />
<line x1="249.40" y1="766.00" x2="260.60" y2="766.00" stroke="#000" stroke-width="1.4" />
<g fill="#000"><circle cx="254.2" cy="700.4" r="3"/><circle cx="251.8" cy="751.8" r="3"/><circle cx="247.8" cy="758.3" r="3"/><circle cx="254.2" cy="757.4" r="3"/><circle cx="260.7" cy="758.3" r="3"/><circle cx="248.6" cy="763.1" r="3"/><circle cx="260.7" cy="763.9" r="3"/><circle cx="251.8" cy="778.3" r="3"/><circle cx="256.6" cy="783.9" r="3"/><circle cx="251.8" cy="788.0" r="3"/><circle cx="254.2" cy="802.0" r="3"/><circle cx="254.2" cy="816.1" r="3"/></g>
<line x1="276.20" y1="822.10" x2="276.20" y2="839.40" stroke="#6b90d9" stroke-width="1.4" />
<line x1="270.60" y1="822.10" x2="281.80" y2="822.10" stroke="#6b90d9" stroke-width="1.4" />
<line x1="270.60" y1="839.40" x2="281.80" y2="839.40" stroke="#6b90d9" stroke-width="1.4" />
<g fill="#6b90d9"><circle cx="276.2" cy="747.5" r="3"/><circle cx="276.2" cy="791.6" r="3"/><circle cx="276.2" cy="808.6" r="3"/><circle cx="269.5" cy="816.6" r="3"/><circle cx="283.1" cy="817.3" r="3"/><circle cx="276.2" cy="822.1" r="3"/><circle cx="283.1" cy="826.3" r="3"/><circle cx="276.2" cy="829.0" r="3"/><circle cx="276.2" cy="838.6" r="3"/><circle cx="269.5" cy="843.8" r="3"/><circle cx="276.2" cy="846.6" r="3"/><circle cx="276.2" cy="855.0" r="3"/><circle cx="276.2" cy="868.0" r="3"/><circle cx="283.1" cy="872.8" r="3"/><circle cx="269.5" cy="876.0" r="3"/></g>
<line x1="111.20" y1="693.20" x2="138.50" y2="693.20" stroke="#000" stroke-width="2.9" />
<text transform="translate(124.8 688.3) scale(1.07 1)" font-size="19" text-anchor="middle" fill="#000" >ns</text>
<line x1="158.70" y1="693.20" x2="186.00" y2="693.20" stroke="#000" stroke-width="2.9" />
<text transform="translate(172.3 688.3) scale(1.07 1)" font-size="19" text-anchor="middle" fill="#000" >ns</text>
<line x1="205.00" y1="693.20" x2="232.70" y2="693.20" stroke="#000" stroke-width="2.9" />
<text transform="translate(218.8 688.3) scale(1.07 1)" font-size="19" text-anchor="middle" fill="#000" >ns</text>
<line x1="249.20" y1="693.20" x2="276.70" y2="693.20" stroke="#000" stroke-width="2.9" />
<text transform="translate(263.2 692.3) scale(1.06 1)" font-size="20.5" text-anchor="middle" fill="#000" font-weight="bold" >****</text>
<text transform="translate(95.9 969.5) scale(1.03 1)" font-size="19" text-anchor="end" fill="#000" >mGlyR</text>
<text transform="translate(95.9 994.3) scale(1.05 1)" font-size="19" text-anchor="end" fill="#000" >RGS7/Gβ5</text>
<text transform="translate(124.7 969.2) scale(1.07 1)" font-size="19" text-anchor="middle" fill="#000" >-</text>
<text transform="translate(124.7 993.2) scale(1.07 1)" font-size="19" text-anchor="middle" fill="#000" >-</text>
<text transform="translate(171.6 969.2) scale(1.07 1)" font-size="19" text-anchor="middle" fill="#000" >+</text>
<text transform="translate(171.6 993.2) scale(1.07 1)" font-size="19" text-anchor="middle" fill="#000" >-</text>
<text transform="translate(217.8 969.2) scale(1.07 1)" font-size="19" text-anchor="middle" fill="#000" >-</text>
<text transform="translate(217.8 993.2) scale(1.07 1)" font-size="19" text-anchor="middle" fill="#000" >+</text>
<text transform="translate(264.7 969.2) scale(1.07 1)" font-size="19" text-anchor="middle" fill="#000" >+</text>
<text transform="translate(264.7 993.2) scale(1.07 1)" font-size="19" text-anchor="middle" fill="#000" >+</text>
<text transform="translate(32.3 806.7) rotate(-90) scale(1.075 1)" font-size="19" text-anchor="middle">Deactivation 1/<tspan font-weight="bold" font-style="italic">τ</tspan> (s<tspan font-size="12.5" dy="-7.5">-1</tspan><tspan dy="7.5">)</tspan></text>
<line x1="401.50" y1="684.85" x2="401.50" y2="943.45" stroke="#000" stroke-width="1.8" />
<line x1="393.00" y1="942.50" x2="603.45" y2="942.50" stroke="#000" stroke-width="1.8" />
<line x1="393.00" y1="942.50" x2="401.50" y2="942.50" stroke="#000" stroke-width="1.8" />
<text transform="translate(389.3 948.8) scale(1.0 1)" font-size="19.6" text-anchor="end" fill="#000" >0.00</text>
<line x1="393.00" y1="891.17" x2="401.50" y2="891.17" stroke="#000" stroke-width="1.8" />
<text transform="translate(389.3 897.5) scale(1.0 1)" font-size="19.6" text-anchor="end" fill="#000" >0.03</text>
<line x1="393.00" y1="839.84" x2="401.50" y2="839.84" stroke="#000" stroke-width="1.8" />
<text transform="translate(389.3 846.1) scale(1.0 1)" font-size="19.6" text-anchor="end" fill="#000" >0.06</text>
<line x1="393.00" y1="788.51" x2="401.50" y2="788.51" stroke="#000" stroke-width="1.8" />
<text transform="translate(389.3 794.8) scale(1.0 1)" font-size="19.6" text-anchor="end" fill="#000" >0.09</text>
<line x1="393.00" y1="737.18" x2="401.50" y2="737.18" stroke="#000" stroke-width="1.8" />
<text transform="translate(389.3 743.5) scale(1.0 1)" font-size="19.6" text-anchor="end" fill="#000" >0.12</text>
<line x1="393.00" y1="685.85" x2="401.50" y2="685.85" stroke="#000" stroke-width="1.8" />
<text transform="translate(389.3 692.1) scale(1.0 1)" font-size="19.6" text-anchor="end" fill="#000" >0.15</text>
<line x1="401.50" y1="942.50" x2="401.50" y2="951.00" stroke="#000" stroke-width="1.8" />
<text transform="translate(399.9 971.0) scale(1.0 1)" font-size="19.6" text-anchor="middle" fill="#000" >-11</text>
<line x1="435.00" y1="942.50" x2="435.00" y2="951.00" stroke="#000" stroke-width="1.8" />
<text transform="translate(433.4 971.0) scale(1.0 1)" font-size="19.6" text-anchor="middle" fill="#000" >-10</text>
<line x1="468.50" y1="942.50" x2="468.50" y2="951.00" stroke="#000" stroke-width="1.8" />
<text transform="translate(466.9 971.0) scale(1.0 1)" font-size="19.6" text-anchor="middle" fill="#000" >-9</text>
<line x1="502.00" y1="942.50" x2="502.00" y2="951.00" stroke="#000" stroke-width="1.8" />
<text transform="translate(500.4 971.0) scale(1.0 1)" font-size="19.6" text-anchor="middle" fill="#000" >-8</text>
<line x1="535.50" y1="942.50" x2="535.50" y2="951.00" stroke="#000" stroke-width="1.8" />
<text transform="translate(533.9 971.0) scale(1.0 1)" font-size="19.6" text-anchor="middle" fill="#000" >-7</text>
<line x1="569.00" y1="942.50" x2="569.00" y2="951.00" stroke="#000" stroke-width="1.8" />
<text transform="translate(567.4 971.0) scale(1.0 1)" font-size="19.6" text-anchor="middle" fill="#000" >-6</text>
<line x1="602.50" y1="942.50" x2="602.50" y2="951.00" stroke="#000" stroke-width="1.8" />
<text transform="translate(600.9 971.0) scale(1.0 1)" font-size="19.6" text-anchor="middle" fill="#000" >-5</text>
<text transform="translate(498.5 996.5) scale(1.07 1)" font-size="19" text-anchor="middle" fill="#000" >Log [Nb] (M)</text>
<path d="M435.0 737.0 L436.7 737.2 L438.4 737.4 L440.0 737.7 L441.7 738.0 L443.4 738.4 L445.1 738.8 L446.7 739.2 L448.4 739.6 L450.1 740.2 L451.8 740.8 L453.4 741.4 L455.1 742.1 L456.8 742.9 L458.5 743.8 L460.1 744.8 L461.8 745.8 L463.5 747.0 L465.2 748.2 L466.8 749.6 L468.5 751.1 L470.2 752.8 L471.9 754.5 L473.5 756.4 L475.2 758.5 L476.9 760.7 L478.6 763.0 L480.2 765.4 L481.9 768.0 L483.6 770.7 L485.3 773.5 L486.9 776.4 L488.6 779.3 L490.3 782.4 L492.0 785.5 L493.6 788.6 L495.3 791.7 L497.0 794.8 L498.7 797.8 L500.3 800.8 L502.0 803.8 L503.7 806.6 L505.4 809.3 L507.0 812.0 L508.7 814.5 L510.4 816.8 L512.1 819.1 L513.7 821.2 L515.4 823.1 L517.1 824.9 L518.8 826.6 L520.4 828.2 L522.1 829.6 L523.8 830.9 L525.5 832.1 L527.1 833.2 L528.8 834.2 L530.5 835.1 L532.2 836.0 L533.8 836.7 L535.5 837.4 L537.2 838.0 L538.9 838.5 L540.5 839.0 L542.2 839.5 L543.9 839.9 L545.6 840.2 L547.2 840.6 L548.9 840.8 L550.6 841.1 L552.3 841.3 L553.9 841.5 L555.6 841.7 L557.3 841.9 L559.0 842.0 L560.6 842.2 L562.3 842.3 L564.0 842.4 L565.7 842.5 L567.3 842.6 L569.0 842.6" fill="none" stroke="#6b90d9" stroke-width="1.5"/>
<line x1="435.00" y1="721.44" x2="435.00" y2="747.62" stroke="#6b90d9" stroke-width="1.4" />
<line x1="431.20" y1="721.44" x2="438.80" y2="721.44" stroke="#6b90d9" stroke-width="1.4" />
<line x1="431.20" y1="747.62" x2="438.80" y2="747.62" stroke="#6b90d9" stroke-width="1.4" />
<circle cx="435.0" cy="734.8" r="3.2" fill="#6b90d9"/>
<line x1="468.50" y1="734.78" x2="468.50" y2="780.64" stroke="#6b90d9" stroke-width="1.4" />
<line x1="464.70" y1="734.78" x2="472.30" y2="734.78" stroke="#6b90d9" stroke-width="1.4" />
<line x1="464.70" y1="780.64" x2="472.30" y2="780.64" stroke="#6b90d9" stroke-width="1.4" />
<circle cx="468.5" cy="757.2" r="3.2" fill="#6b90d9"/>
<line x1="502.00" y1="791.76" x2="502.00" y2="812.64" stroke="#6b90d9" stroke-width="1.4" />
<line x1="498.20" y1="791.76" x2="505.80" y2="791.76" stroke="#6b90d9" stroke-width="1.4" />
<line x1="498.20" y1="812.64" x2="505.80" y2="812.64" stroke="#6b90d9" stroke-width="1.4" />
<circle cx="502.0" cy="802.0" r="3.2" fill="#6b90d9"/>
<line x1="535.50" y1="814.17" x2="535.50" y2="853.19" stroke="#6b90d9" stroke-width="1.4" />
<line x1="531.70" y1="814.17" x2="539.30" y2="814.17" stroke="#6b90d9" stroke-width="1.4" />
<line x1="531.70" y1="853.19" x2="539.30" y2="853.19" stroke="#6b90d9" stroke-width="1.4" />
<circle cx="535.5" cy="833.9" r="3.2" fill="#6b90d9"/>
<line x1="569.00" y1="824.95" x2="569.00" y2="867.04" stroke="#6b90d9" stroke-width="1.4" />
<line x1="565.20" y1="824.95" x2="572.80" y2="824.95" stroke="#6b90d9" stroke-width="1.4" />
<line x1="565.20" y1="867.04" x2="572.80" y2="867.04" stroke="#6b90d9" stroke-width="1.4" />
<circle cx="569.0" cy="845.7" r="3.2" fill="#6b90d9"/>
<text transform="translate(415.6 905.3) scale(1.025 1)" font-size="19.6">IC<tspan font-size="12.8" dy="4">50</tspan><tspan dy="-4"> = 5.77 nM</tspan></text>
<text transform="translate(339.5 811.5) rotate(-90) scale(1.07 1)" font-size="19" text-anchor="middle">K<tspan font-size="12.5" dy="4">GAP</tspan><tspan dy="-4">(s</tspan><tspan font-size="12.5" dy="-7.5">-1</tspan><tspan dy="7.5">)</tspan></text>
</svg></body></html>
